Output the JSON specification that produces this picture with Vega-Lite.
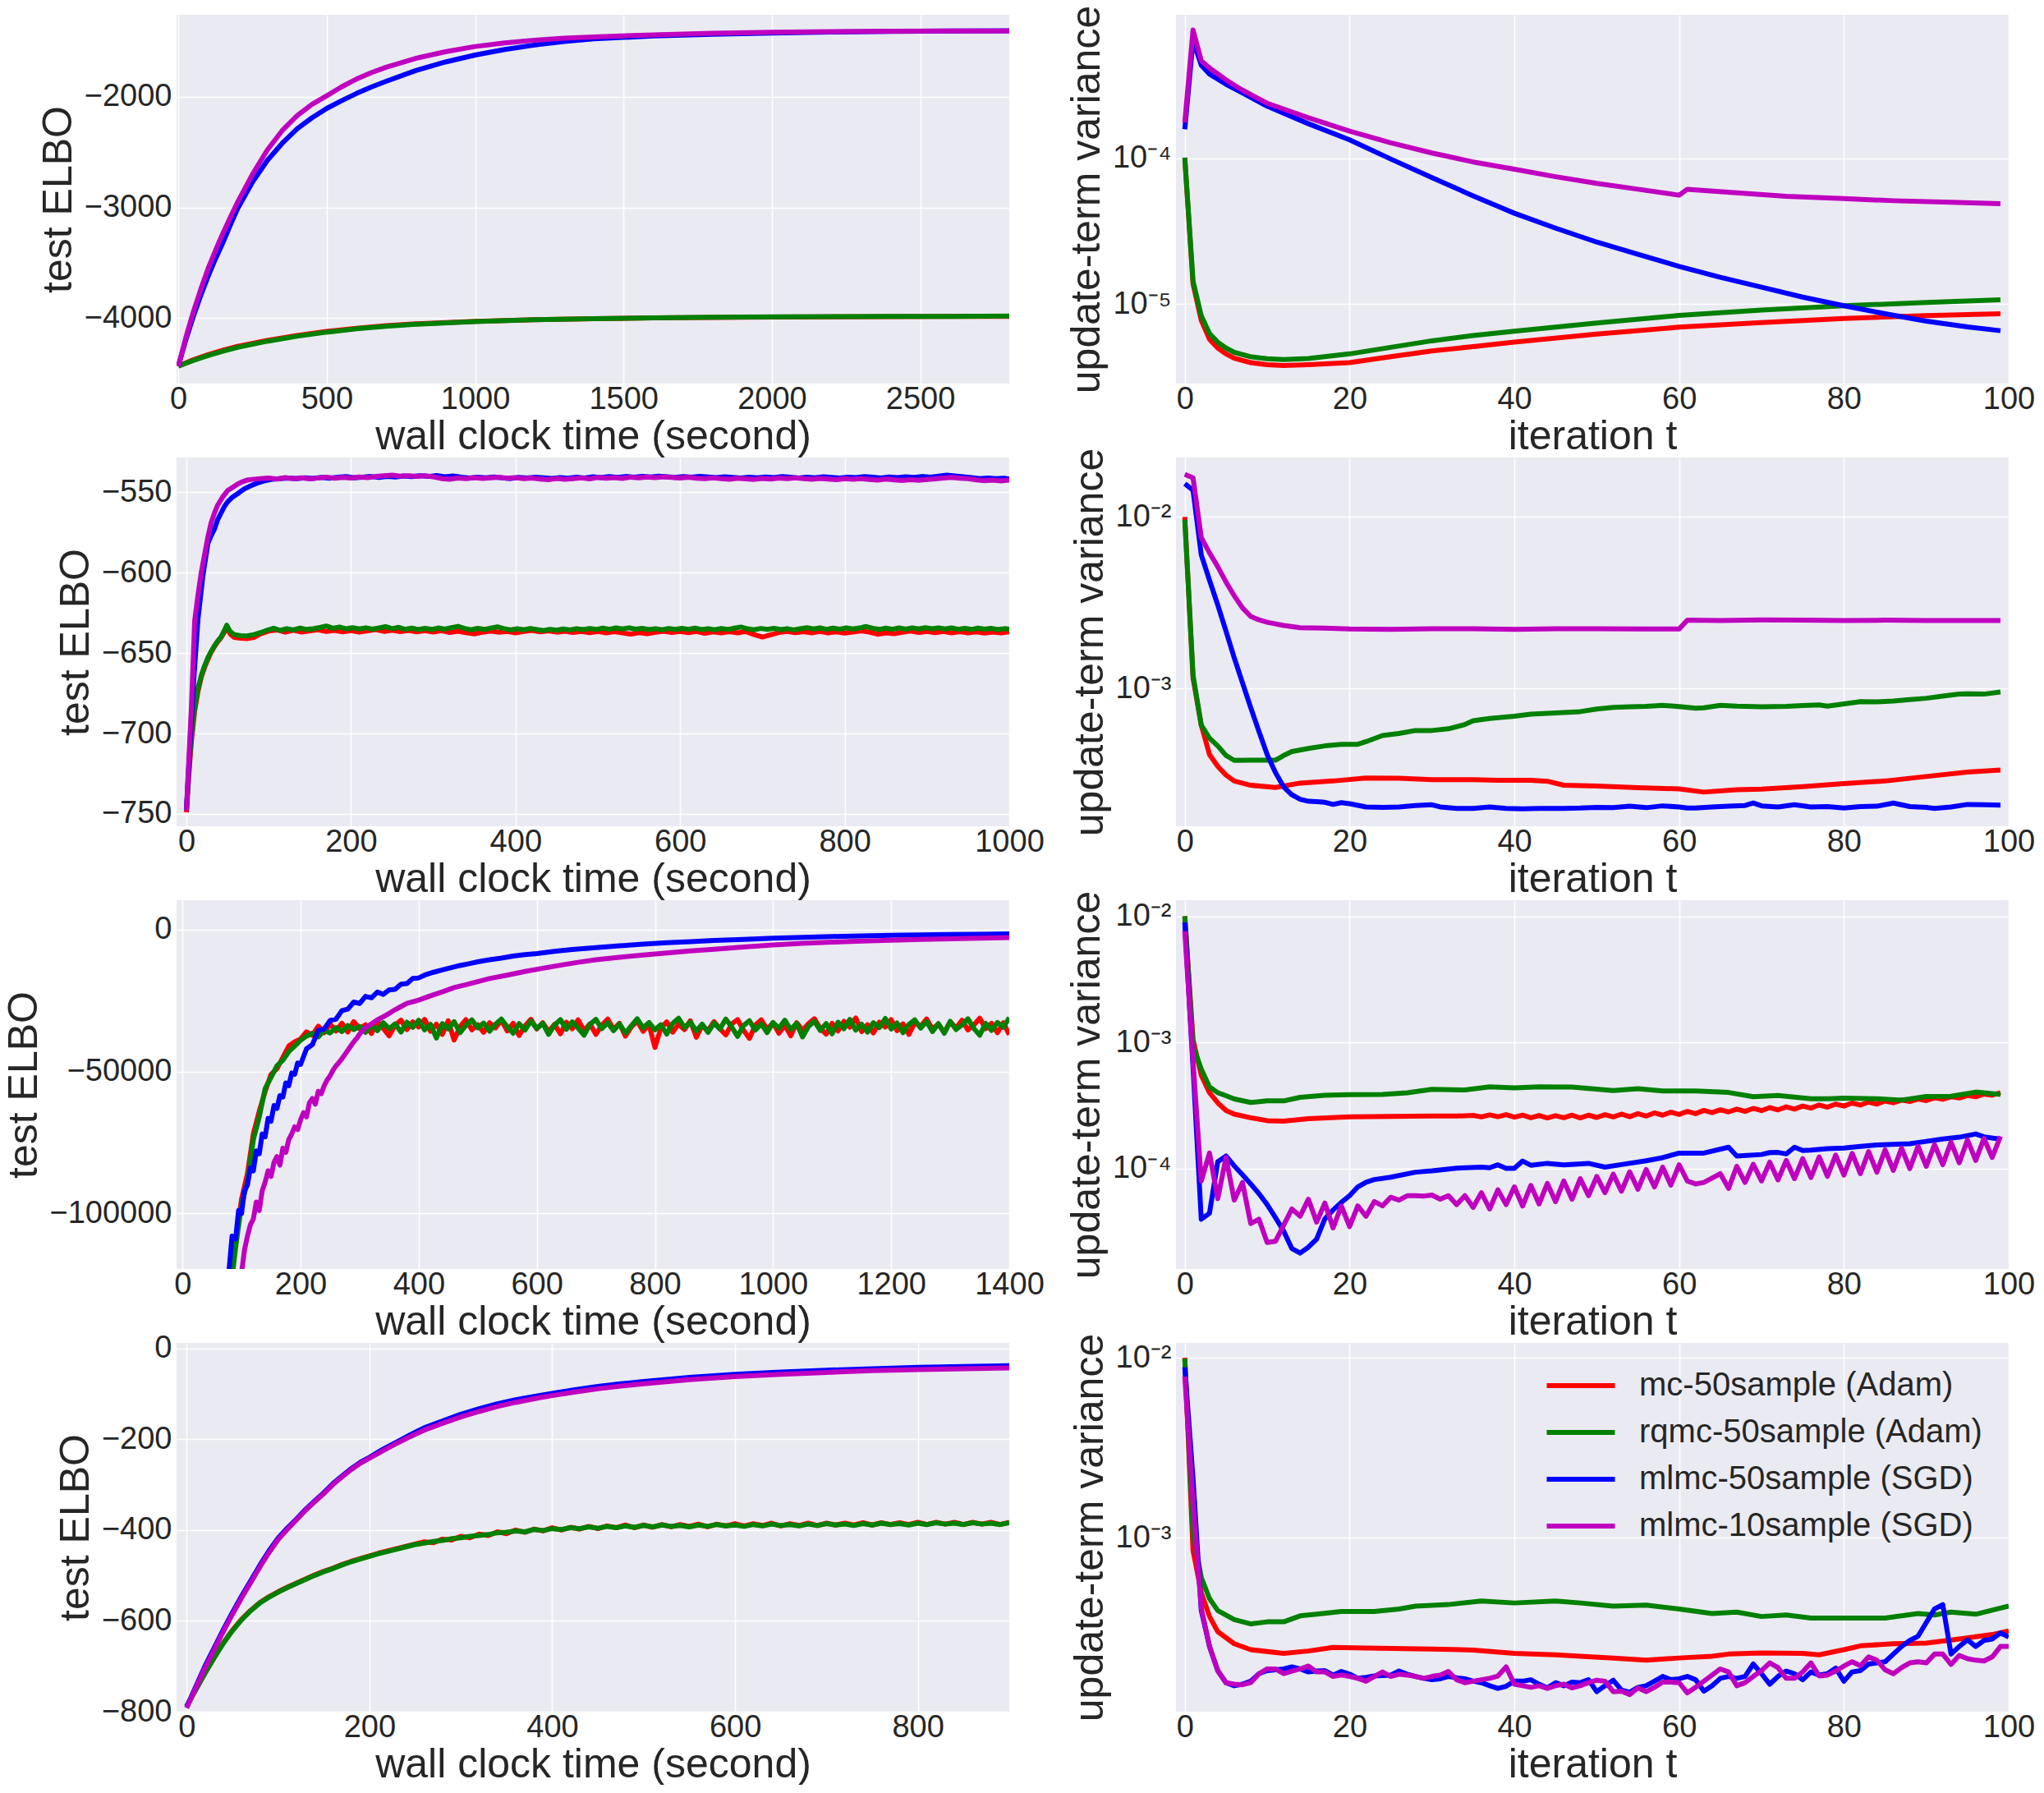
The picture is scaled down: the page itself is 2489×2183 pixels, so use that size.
{
"$schema":"https://vega.github.io/schema/vega-lite/v6.json",
"background":"white",
"padding":{"left":4,"top":6,"right":0,"bottom":0},
"config":{
"font":"Liberation Sans",
"view":{"fill":"#EAEAF2","stroke":null},
"axis":{"grid":true,"gridColor":"#ffffff","gridWidth":1.5,"domain":false,"ticks":false,"labelFontSize":38,"titleFontSize":50,"labelColor":"#262626","titleColor":"#262626","titleFontWeight":"normal","labelFlush":false,"labelOverlap":false,"labelFont":"Liberation Sans","titleFont":"Liberation Sans"},
"axisX":{"labelPadding":0,"titlePadding":1},
"axisY":{"labelPadding":6,"titlePadding":6},
"line":{"strokeWidth":6,"strokeJoin":"round","clip":true}
},
"bounds":"flush",
"columns":2,
"spacing":{"row":90,"column":203},
"resolve":{"scale":{"x":"independent","y":"independent","color":"independent"},"legend":{"color":"independent"}},
"datasets":{
"L1":[
{"s":"a","x":0,"y":-4435},{"s":"a","x":50,"y":-4378},{"s":"a","x":100,"y":-4332},{"s":"a","x":150,"y":-4292},{"s":"a","x":200,"y":-4257},{"s":"a","x":300,"y":-4202},{"s":"a","x":400,"y":-4158},{"s":"a","x":500,"y":-4122},{"s":"a","x":600,"y":-4093},{"s":"a","x":700,"y":-4070},{"s":"a","x":800,"y":-4053},{"s":"a","x":1000,"y":-4030},{"s":"a","x":1200,"y":-4015},{"s":"a","x":1400,"y":-4006},{"s":"a","x":1600,"y":-3999},{"s":"a","x":1800,"y":-3995},{"s":"a","x":2000,"y":-3991},{"s":"a","x":2200,"y":-3989},{"s":"a","x":2400,"y":-3987},{"s":"a","x":2600,"y":-3986},{"s":"a","x":2800,"y":-3985},
{"s":"b","x":0,"y":-4435},{"s":"b","x":50,"y":-4385},{"s":"b","x":100,"y":-4340},{"s":"b","x":150,"y":-4300},{"s":"b","x":200,"y":-4265},{"s":"b","x":300,"y":-4210},{"s":"b","x":400,"y":-4165},{"s":"b","x":500,"y":-4128},{"s":"b","x":600,"y":-4098},{"s":"b","x":700,"y":-4075},{"s":"b","x":800,"y":-4057},{"s":"b","x":1000,"y":-4032},{"s":"b","x":1200,"y":-4016},{"s":"b","x":1400,"y":-4006},{"s":"b","x":1600,"y":-3999},{"s":"b","x":1800,"y":-3994},{"s":"b","x":2000,"y":-3990},{"s":"b","x":2200,"y":-3988},{"s":"b","x":2400,"y":-3986},{"s":"b","x":2600,"y":-3985},{"s":"b","x":2800,"y":-3983},
{"s":"c","x":0,"y":-4435},{"s":"c","x":25,"y":-4200},{"s":"c","x":50,"y":-3990},{"s":"c","x":75,"y":-3800},{"s":"c","x":100,"y":-3625},{"s":"c","x":125,"y":-3465},{"s":"c","x":150,"y":-3320},{"s":"c","x":175,"y":-3160},{"s":"c","x":200,"y":-3010},{"s":"c","x":250,"y":-2770},{"s":"c","x":300,"y":-2575},{"s":"c","x":350,"y":-2420},{"s":"c","x":400,"y":-2290},{"s":"c","x":450,"y":-2190},{"s":"c","x":500,"y":-2105},{"s":"c","x":550,"y":-2035},{"s":"c","x":600,"y":-1970},{"s":"c","x":650,"y":-1912},{"s":"c","x":700,"y":-1860},{"s":"c","x":800,"y":-1762},{"s":"c","x":900,"y":-1685},{"s":"c","x":1000,"y":-1622},{"s":"c","x":1100,"y":-1572},{"s":"c","x":1200,"y":-1532},{"s":"c","x":1300,"y":-1500},{"s":"c","x":1400,"y":-1476},{"s":"c","x":1600,"y":-1450},{"s":"c","x":1800,"y":-1434},{"s":"c","x":2000,"y":-1423},{"s":"c","x":2200,"y":-1414},{"s":"c","x":2400,"y":-1409},{"s":"c","x":2600,"y":-1405},{"s":"c","x":2800,"y":-1403},
{"s":"d","x":0,"y":-4435},{"s":"d","x":25,"y":-4180},{"s":"d","x":50,"y":-3950},{"s":"d","x":75,"y":-3745},{"s":"d","x":100,"y":-3555},{"s":"d","x":125,"y":-3390},{"s":"d","x":150,"y":-3235},{"s":"d","x":175,"y":-3090},{"s":"d","x":200,"y":-2950},{"s":"d","x":250,"y":-2700},{"s":"d","x":300,"y":-2480},{"s":"d","x":350,"y":-2305},{"s":"d","x":400,"y":-2170},{"s":"d","x":450,"y":-2068},{"s":"d","x":500,"y":-1990},{"s":"d","x":550,"y":-1910},{"s":"d","x":600,"y":-1840},{"s":"d","x":650,"y":-1782},{"s":"d","x":700,"y":-1732},{"s":"d","x":800,"y":-1652},{"s":"d","x":900,"y":-1592},{"s":"d","x":1000,"y":-1545},{"s":"d","x":1100,"y":-1512},{"s":"d","x":1200,"y":-1488},{"s":"d","x":1300,"y":-1470},{"s":"d","x":1400,"y":-1458},{"s":"d","x":1600,"y":-1440},{"s":"d","x":1800,"y":-1425},{"s":"d","x":2000,"y":-1416},{"s":"d","x":2200,"y":-1410},{"s":"d","x":2400,"y":-1407},{"s":"d","x":2600,"y":-1405},{"s":"d","x":2800,"y":-1404}
],
"L2":[
{"s":"a","x":0,"y":-749},{"s":"a","x":3,"y":-725},{"s":"a","x":6,"y":-705},{"s":"a","x":10,"y":-686},{"s":"a","x":14,"y":-674},{"s":"a","x":18,"y":-665},{"s":"a","x":22,"y":-659},{"s":"a","x":26,"y":-654},{"s":"a","x":30,"y":-649.5},{"s":"a","x":34,"y":-646},{"s":"a","x":38,"y":-643},{"s":"a","x":42,"y":-640.5},{"s":"a","x":46,"y":-637},{"s":"a","x":49,"y":-634},{"s":"a","x":53,"y":-638},{"s":"a","x":58,"y":-640.2},{"s":"a","x":66,"y":-640.8},{"s":"a","x":74,"y":-641},{"s":"a","x":82,"y":-640.3},{"s":"a","x":90,"y":-638},{"s":"a","x":100,"y":-636.3},{"s":"a","x":110,"y":-635.6},{"s":"a","x":120,"y":-637.0},{"s":"a","x":130,"y":-635.8},{"s":"a","x":140,"y":-636.9},{"s":"a","x":150,"y":-636.2},{"s":"a","x":160,"y":-635.5},{"s":"a","x":170,"y":-636.6},{"s":"a","x":180,"y":-635.9},{"s":"a","x":190,"y":-636.8},{"s":"a","x":200,"y":-636.1},{"s":"a","x":210,"y":-637.0},{"s":"a","x":220,"y":-636.2},{"s":"a","x":230,"y":-635.4},{"s":"a","x":240,"y":-636.5},{"s":"a","x":250,"y":-635.8},{"s":"a","x":260,"y":-636.7},{"s":"a","x":270,"y":-635.9},{"s":"a","x":280,"y":-636.8},{"s":"a","x":290,"y":-636.0},{"s":"a","x":300,"y":-636.9},{"s":"a","x":310,"y":-636.1},{"s":"a","x":320,"y":-637.2},{"s":"a","x":330,"y":-636.4},{"s":"a","x":340,"y":-637.3},{"s":"a","x":350,"y":-638.1},{"s":"a","x":360,"y":-637.0},{"s":"a","x":370,"y":-636.3},{"s":"a","x":380,"y":-637.1},{"s":"a","x":390,"y":-636.5},{"s":"a","x":400,"y":-637.4},{"s":"a","x":410,"y":-636.6},{"s":"a","x":420,"y":-635.9},{"s":"a","x":430,"y":-636.8},{"s":"a","x":440,"y":-636.2},{"s":"a","x":450,"y":-637.0},{"s":"a","x":460,"y":-636.4},{"s":"a","x":470,"y":-637.2},{"s":"a","x":480,"y":-636.5},{"s":"a","x":490,"y":-637.3},{"s":"a","x":500,"y":-636.6},{"s":"a","x":510,"y":-637.4},{"s":"a","x":520,"y":-636.7},{"s":"a","x":530,"y":-637.5},{"s":"a","x":540,"y":-638.2},{"s":"a","x":550,"y":-637.3},{"s":"a","x":560,"y":-638.0},{"s":"a","x":570,"y":-637.1},{"s":"a","x":580,"y":-636.4},{"s":"a","x":590,"y":-637.2},{"s":"a","x":600,"y":-636.5},{"s":"a","x":610,"y":-637.3},{"s":"a","x":620,"y":-636.6},{"s":"a","x":630,"y":-637.7},{"s":"a","x":640,"y":-636.8},{"s":"a","x":650,"y":-637.5},{"s":"a","x":660,"y":-636.7},{"s":"a","x":670,"y":-637.4},{"s":"a","x":680,"y":-636.6},{"s":"a","x":690,"y":-638.5},{"s":"a","x":700,"y":-640.0},{"s":"a","x":710,"y":-638.6},{"s":"a","x":720,"y":-637.2},{"s":"a","x":730,"y":-636.5},{"s":"a","x":740,"y":-637.3},{"s":"a","x":750,"y":-636.7},{"s":"a","x":760,"y":-637.4},{"s":"a","x":770,"y":-636.6},{"s":"a","x":780,"y":-637.5},{"s":"a","x":790,"y":-636.8},{"s":"a","x":800,"y":-637.6},{"s":"a","x":810,"y":-636.9},{"s":"a","x":820,"y":-636.2},{"s":"a","x":830,"y":-637.0},{"s":"a","x":840,"y":-638.3},{"s":"a","x":850,"y":-637.4},{"s":"a","x":860,"y":-638.0},{"s":"a","x":870,"y":-637.1},{"s":"a","x":880,"y":-636.3},{"s":"a","x":890,"y":-637.2},{"s":"a","x":900,"y":-636.5},{"s":"a","x":910,"y":-637.3},{"s":"a","x":920,"y":-636.6},{"s":"a","x":930,"y":-637.4},{"s":"a","x":940,"y":-636.7},{"s":"a","x":950,"y":-637.5},{"s":"a","x":960,"y":-636.8},{"s":"a","x":970,"y":-637.6},{"s":"a","x":980,"y":-636.9},{"s":"a","x":990,"y":-637.5},{"s":"a","x":1000,"y":-636.8},
{"s":"b","x":0,"y":-748},{"s":"b","x":3,"y":-722},{"s":"b","x":6,"y":-702},{"s":"b","x":10,"y":-684},{"s":"b","x":14,"y":-672},{"s":"b","x":18,"y":-664},{"s":"b","x":22,"y":-658},{"s":"b","x":26,"y":-653},{"s":"b","x":30,"y":-649},{"s":"b","x":34,"y":-645.5},{"s":"b","x":38,"y":-642.5},{"s":"b","x":42,"y":-640},{"s":"b","x":46,"y":-636},{"s":"b","x":49,"y":-632.7},{"s":"b","x":53,"y":-636.5},{"s":"b","x":58,"y":-638.5},{"s":"b","x":66,"y":-639.2},{"s":"b","x":74,"y":-639.3},{"s":"b","x":82,"y":-638.5},{"s":"b","x":90,"y":-637.3},{"s":"b","x":98,"y":-635.8},{"s":"b","x":106,"y":-634.6},{"s":"b","x":114,"y":-635.9},{"s":"b","x":122,"y":-634.8},{"s":"b","x":130,"y":-635.6},{"s":"b","x":138,"y":-634.5},{"s":"b","x":146,"y":-635.3},{"s":"b","x":154,"y":-634.9},{"s":"b","x":162,"y":-634.1},{"s":"b","x":170,"y":-633.2},{"s":"b","x":178,"y":-634.6},{"s":"b","x":186,"y":-633.8},{"s":"b","x":194,"y":-634.9},{"s":"b","x":202,"y":-634.2},{"s":"b","x":210,"y":-635.0},{"s":"b","x":218,"y":-634.3},{"s":"b","x":226,"y":-635.1},{"s":"b","x":234,"y":-634.4},{"s":"b","x":242,"y":-633.6},{"s":"b","x":250,"y":-634.8},{"s":"b","x":258,"y":-634.0},{"s":"b","x":266,"y":-635.2},{"s":"b","x":274,"y":-634.5},{"s":"b","x":282,"y":-635.4},{"s":"b","x":290,"y":-634.6},{"s":"b","x":298,"y":-635.3},{"s":"b","x":306,"y":-634.4},{"s":"b","x":314,"y":-635.1},{"s":"b","x":322,"y":-634.2},{"s":"b","x":330,"y":-633.4},{"s":"b","x":338,"y":-634.7},{"s":"b","x":346,"y":-635.5},{"s":"b","x":354,"y":-634.6},{"s":"b","x":362,"y":-635.3},{"s":"b","x":370,"y":-634.5},{"s":"b","x":378,"y":-633.7},{"s":"b","x":386,"y":-634.8},{"s":"b","x":394,"y":-635.6},{"s":"b","x":402,"y":-634.9},{"s":"b","x":410,"y":-635.5},{"s":"b","x":418,"y":-634.7},{"s":"b","x":426,"y":-635.4},{"s":"b","x":434,"y":-636.0},{"s":"b","x":442,"y":-635.2},{"s":"b","x":450,"y":-635.8},{"s":"b","x":458,"y":-635.0},{"s":"b","x":466,"y":-635.6},{"s":"b","x":474,"y":-634.8},{"s":"b","x":482,"y":-635.4},{"s":"b","x":490,"y":-634.7},{"s":"b","x":498,"y":-635.3},{"s":"b","x":506,"y":-634.5},{"s":"b","x":514,"y":-635.2},{"s":"b","x":522,"y":-634.4},{"s":"b","x":530,"y":-635.0},{"s":"b","x":538,"y":-634.3},{"s":"b","x":546,"y":-635.1},{"s":"b","x":554,"y":-634.6},{"s":"b","x":562,"y":-635.4},{"s":"b","x":570,"y":-634.8},{"s":"b","x":578,"y":-635.5},{"s":"b","x":586,"y":-634.7},{"s":"b","x":594,"y":-635.3},{"s":"b","x":602,"y":-634.6},{"s":"b","x":610,"y":-635.2},{"s":"b","x":618,"y":-634.5},{"s":"b","x":626,"y":-635.4},{"s":"b","x":634,"y":-634.8},{"s":"b","x":642,"y":-635.5},{"s":"b","x":650,"y":-634.7},{"s":"b","x":658,"y":-635.3},{"s":"b","x":666,"y":-634.5},{"s":"b","x":674,"y":-633.8},{"s":"b","x":682,"y":-634.9},{"s":"b","x":690,"y":-635.5},{"s":"b","x":698,"y":-634.7},{"s":"b","x":706,"y":-635.3},{"s":"b","x":714,"y":-634.6},{"s":"b","x":722,"y":-635.4},{"s":"b","x":730,"y":-634.8},{"s":"b","x":738,"y":-635.6},{"s":"b","x":746,"y":-634.9},{"s":"b","x":754,"y":-634.2},{"s":"b","x":762,"y":-635.0},{"s":"b","x":770,"y":-634.4},{"s":"b","x":778,"y":-635.2},{"s":"b","x":786,"y":-634.5},{"s":"b","x":794,"y":-635.1},{"s":"b","x":802,"y":-634.3},{"s":"b","x":810,"y":-635.0},{"s":"b","x":818,"y":-634.4},{"s":"b","x":826,"y":-633.5},{"s":"b","x":834,"y":-634.6},{"s":"b","x":842,"y":-635.3},{"s":"b","x":850,"y":-634.5},{"s":"b","x":858,"y":-635.2},{"s":"b","x":866,"y":-634.4},{"s":"b","x":874,"y":-635.1},{"s":"b","x":882,"y":-634.3},{"s":"b","x":890,"y":-635.0},{"s":"b","x":898,"y":-634.2},{"s":"b","x":906,"y":-634.9},{"s":"b","x":914,"y":-634.3},{"s":"b","x":922,"y":-635.0},{"s":"b","x":930,"y":-634.4},{"s":"b","x":938,"y":-635.2},{"s":"b","x":946,"y":-634.6},{"s":"b","x":954,"y":-635.3},{"s":"b","x":962,"y":-634.5},{"s":"b","x":970,"y":-635.1},{"s":"b","x":978,"y":-634.6},{"s":"b","x":986,"y":-635.4},{"s":"b","x":994,"y":-634.8},{"s":"b","x":1000,"y":-635.2},
{"s":"c","x":0,"y":-747},{"s":"c","x":4,"y":-710},{"s":"c","x":9,"y":-666},{"s":"c","x":14,"y":-629},{"s":"c","x":20,"y":-602},{"s":"c","x":26,"y":-582},{"s":"c","x":30,"y":-577},{"s":"c","x":34,"y":-573},{"s":"c","x":38,"y":-567},{"s":"c","x":42,"y":-563},{"s":"c","x":46,"y":-559},{"s":"c","x":50,"y":-556},{"s":"c","x":56,"y":-553},{"s":"c","x":62,"y":-551},{"s":"c","x":70,"y":-548},{"s":"c","x":78,"y":-546},{"s":"c","x":86,"y":-544.3},{"s":"c","x":94,"y":-543},{"s":"c","x":104,"y":-542},{"s":"c","x":114,"y":-541.5},{"s":"c","x":124,"y":-541.2},{"s":"c","x":134,"y":-541.6},{"s":"c","x":144,"y":-541.0},{"s":"c","x":154,"y":-541.4},{"s":"c","x":164,"y":-540.8},{"s":"c","x":174,"y":-541.3},{"s":"c","x":184,"y":-540.7},{"s":"c","x":194,"y":-540.3},{"s":"c","x":204,"y":-541.0},{"s":"c","x":214,"y":-540.6},{"s":"c","x":224,"y":-540.2},{"s":"c","x":234,"y":-540.8},{"s":"c","x":244,"y":-540.1},{"s":"c","x":254,"y":-540.5},{"s":"c","x":264,"y":-539.9},{"s":"c","x":274,"y":-540.3},{"s":"c","x":284,"y":-539.7},{"s":"c","x":294,"y":-540.2},{"s":"c","x":304,"y":-539.6},{"s":"c","x":314,"y":-540.4},{"s":"c","x":324,"y":-539.9},{"s":"c","x":334,"y":-540.7},{"s":"c","x":344,"y":-541.2},{"s":"c","x":354,"y":-540.6},{"s":"c","x":364,"y":-541.0},{"s":"c","x":374,"y":-540.5},{"s":"c","x":384,"y":-541.1},{"s":"c","x":394,"y":-541.5},{"s":"c","x":404,"y":-540.8},{"s":"c","x":414,"y":-541.2},{"s":"c","x":424,"y":-540.6},{"s":"c","x":434,"y":-541.0},{"s":"c","x":444,"y":-541.4},{"s":"c","x":454,"y":-540.9},{"s":"c","x":464,"y":-541.3},{"s":"c","x":474,"y":-540.7},{"s":"c","x":484,"y":-541.1},{"s":"c","x":494,"y":-540.4},{"s":"c","x":504,"y":-540.9},{"s":"c","x":514,"y":-540.3},{"s":"c","x":524,"y":-540.8},{"s":"c","x":534,"y":-540.2},{"s":"c","x":544,"y":-540.6},{"s":"c","x":554,"y":-540.1},{"s":"c","x":564,"y":-540.5},{"s":"c","x":574,"y":-540.0},{"s":"c","x":584,"y":-540.4},{"s":"c","x":594,"y":-540.8},{"s":"c","x":604,"y":-540.3},{"s":"c","x":614,"y":-540.7},{"s":"c","x":624,"y":-540.1},{"s":"c","x":634,"y":-540.5},{"s":"c","x":644,"y":-540.9},{"s":"c","x":654,"y":-540.4},{"s":"c","x":664,"y":-540.8},{"s":"c","x":674,"y":-541.2},{"s":"c","x":684,"y":-540.6},{"s":"c","x":694,"y":-541.0},{"s":"c","x":704,"y":-540.5},{"s":"c","x":714,"y":-540.9},{"s":"c","x":724,"y":-540.3},{"s":"c","x":734,"y":-540.7},{"s":"c","x":744,"y":-541.1},{"s":"c","x":754,"y":-540.6},{"s":"c","x":764,"y":-541.0},{"s":"c","x":774,"y":-540.4},{"s":"c","x":784,"y":-540.8},{"s":"c","x":794,"y":-541.2},{"s":"c","x":804,"y":-540.6},{"s":"c","x":814,"y":-540.9},{"s":"c","x":824,"y":-540.3},{"s":"c","x":834,"y":-540.7},{"s":"c","x":844,"y":-541.1},{"s":"c","x":854,"y":-540.5},{"s":"c","x":864,"y":-540.9},{"s":"c","x":874,"y":-540.4},{"s":"c","x":884,"y":-540.8},{"s":"c","x":894,"y":-540.2},{"s":"c","x":904,"y":-540.6},{"s":"c","x":914,"y":-540.0},{"s":"c","x":924,"y":-539.4},{"s":"c","x":934,"y":-539.9},{"s":"c","x":944,"y":-540.4},{"s":"c","x":954,"y":-540.9},{"s":"c","x":964,"y":-541.5},{"s":"c","x":974,"y":-541.1},{"s":"c","x":984,"y":-541.6},{"s":"c","x":994,"y":-541.3},{"s":"c","x":1000,"y":-541.8},
{"s":"d","x":0,"y":-748},{"s":"d","x":3,"y":-715},{"s":"d","x":6,"y":-684},{"s":"d","x":10,"y":-630},{"s":"d","x":14,"y":-614},{"s":"d","x":18,"y":-600},{"s":"d","x":22,"y":-589},{"s":"d","x":26,"y":-578},{"s":"d","x":30,"y":-569},{"s":"d","x":34,"y":-563},{"s":"d","x":38,"y":-558},{"s":"d","x":44,"y":-553},{"s":"d","x":50,"y":-549},{"s":"d","x":56,"y":-547},{"s":"d","x":62,"y":-545},{"s":"d","x":68,"y":-543.5},{"s":"d","x":74,"y":-542.4},{"s":"d","x":80,"y":-542},{"s":"d","x":90,"y":-541.6},{"s":"d","x":100,"y":-541.2},{"s":"d","x":110,"y":-541.8},{"s":"d","x":120,"y":-540.9},{"s":"d","x":130,"y":-541.5},{"s":"d","x":140,"y":-541.0},{"s":"d","x":150,"y":-541.7},{"s":"d","x":160,"y":-541.1},{"s":"d","x":170,"y":-540.6},{"s":"d","x":180,"y":-541.3},{"s":"d","x":190,"y":-540.8},{"s":"d","x":200,"y":-541.2},{"s":"d","x":210,"y":-540.5},{"s":"d","x":220,"y":-540.9},{"s":"d","x":230,"y":-540.2},{"s":"d","x":240,"y":-539.8},{"s":"d","x":250,"y":-539.4},{"s":"d","x":260,"y":-540.0},{"s":"d","x":270,"y":-539.7},{"s":"d","x":280,"y":-540.1},{"s":"d","x":290,"y":-539.8},{"s":"d","x":300,"y":-540.4},{"s":"d","x":310,"y":-541.5},{"s":"d","x":320,"y":-541.9},{"s":"d","x":330,"y":-541.2},{"s":"d","x":340,"y":-541.6},{"s":"d","x":350,"y":-540.9},{"s":"d","x":360,"y":-541.4},{"s":"d","x":370,"y":-541.1},{"s":"d","x":380,"y":-540.7},{"s":"d","x":390,"y":-541.3},{"s":"d","x":400,"y":-540.9},{"s":"d","x":410,"y":-541.6},{"s":"d","x":420,"y":-541.2},{"s":"d","x":430,"y":-541.8},{"s":"d","x":440,"y":-542.2},{"s":"d","x":450,"y":-541.4},{"s":"d","x":460,"y":-542.0},{"s":"d","x":470,"y":-541.5},{"s":"d","x":480,"y":-541.1},{"s":"d","x":490,"y":-541.7},{"s":"d","x":500,"y":-540.8},{"s":"d","x":510,"y":-541.3},{"s":"d","x":520,"y":-540.9},{"s":"d","x":530,"y":-541.4},{"s":"d","x":540,"y":-540.6},{"s":"d","x":550,"y":-541.0},{"s":"d","x":560,"y":-540.5},{"s":"d","x":570,"y":-540.9},{"s":"d","x":580,"y":-540.4},{"s":"d","x":590,"y":-540.8},{"s":"d","x":600,"y":-541.2},{"s":"d","x":610,"y":-540.7},{"s":"d","x":620,"y":-541.3},{"s":"d","x":630,"y":-541.6},{"s":"d","x":640,"y":-541.1},{"s":"d","x":650,"y":-541.5},{"s":"d","x":660,"y":-541.9},{"s":"d","x":670,"y":-541.3},{"s":"d","x":680,"y":-541.7},{"s":"d","x":690,"y":-542.0},{"s":"d","x":700,"y":-541.4},{"s":"d","x":710,"y":-541.8},{"s":"d","x":720,"y":-541.2},{"s":"d","x":730,"y":-541.6},{"s":"d","x":740,"y":-541.0},{"s":"d","x":750,"y":-541.5},{"s":"d","x":760,"y":-541.9},{"s":"d","x":770,"y":-541.4},{"s":"d","x":780,"y":-541.8},{"s":"d","x":790,"y":-542.2},{"s":"d","x":800,"y":-541.6},{"s":"d","x":810,"y":-542.0},{"s":"d","x":820,"y":-541.5},{"s":"d","x":830,"y":-542.1},{"s":"d","x":840,"y":-542.4},{"s":"d","x":850,"y":-541.8},{"s":"d","x":860,"y":-542.3},{"s":"d","x":870,"y":-542.7},{"s":"d","x":880,"y":-542.2},{"s":"d","x":890,"y":-542.6},{"s":"d","x":900,"y":-542.1},{"s":"d","x":910,"y":-541.7},{"s":"d","x":920,"y":-541.2},{"s":"d","x":930,"y":-540.8},{"s":"d","x":940,"y":-541.3},{"s":"d","x":950,"y":-541.6},{"s":"d","x":960,"y":-542.3},{"s":"d","x":970,"y":-542.8},{"s":"d","x":980,"y":-542.4},{"s":"d","x":990,"y":-542.9},{"s":"d","x":1000,"y":-542.5}
],
"L3":[
{"s":"a","x":80,"y":-128000},{"s":"a","x":90,"y":-110000},{"s":"a","x":100,"y":-95000},{"s":"a","x":110,"y":-86000},{"s":"a","x":120,"y":-72000},{"s":"a","x":130,"y":-64000},{"s":"a","x":140,"y":-57000},{"s":"a","x":150,"y":-51000},{"s":"a","x":160,"y":-49000},{"s":"a","x":170,"y":-45000},{"s":"a","x":180,"y":-41000},{"s":"a","x":190,"y":-39500},{"s":"a","x":200,"y":-38500},{"s":"a","x":210,"y":-36000},{"s":"a","x":220,"y":-37200},{"s":"a","x":230,"y":-34000},{"s":"a","x":240,"y":-36300},{"s":"a","x":250,"y":-33200},{"s":"a","x":260,"y":-35700},{"s":"a","x":270,"y":-33000},{"s":"a","x":280,"y":-36100},{"s":"a","x":290,"y":-32400},{"s":"a","x":300,"y":-34900},{"s":"a","x":310,"y":-33500},{"s":"a","x":320,"y":-36600},{"s":"a","x":330,"y":-32300},{"s":"a","x":340,"y":-34800},{"s":"a","x":350,"y":-37400},{"s":"a","x":360,"y":-33600},{"s":"a","x":370,"y":-31900},{"s":"a","x":380,"y":-35200},{"s":"a","x":390,"y":-32500},{"s":"a","x":400,"y":-34300},{"s":"a","x":410,"y":-31600},{"s":"a","x":420,"y":-35800},{"s":"a","x":430,"y":-33300},{"s":"a","x":440,"y":-36900},{"s":"a","x":450,"y":-32100},{"s":"a","x":460,"y":-38900},{"s":"a","x":470,"y":-34200},{"s":"a","x":480,"y":-31700},{"s":"a","x":490,"y":-35300},{"s":"a","x":500,"y":-33500},{"s":"a","x":510,"y":-36200},{"s":"a","x":520,"y":-32800},{"s":"a","x":530,"y":-34600},{"s":"a","x":540,"y":-31900},{"s":"a","x":550,"y":-35700},{"s":"a","x":560,"y":-33000},{"s":"a","x":570,"y":-37300},{"s":"a","x":580,"y":-33900},{"s":"a","x":590,"y":-31600},{"s":"a","x":600,"y":-35000},{"s":"a","x":610,"y":-32800},{"s":"a","x":620,"y":-35900},{"s":"a","x":630,"y":-33400},{"s":"a","x":640,"y":-36700},{"s":"a","x":650,"y":-32600},{"s":"a","x":660,"y":-34900},{"s":"a","x":670,"y":-31800},{"s":"a","x":680,"y":-35600},{"s":"a","x":690,"y":-33200},{"s":"a","x":700,"y":-36900},{"s":"a","x":710,"y":-33700},{"s":"a","x":720,"y":-31500},{"s":"a","x":730,"y":-35100},{"s":"a","x":740,"y":-33000},{"s":"a","x":750,"y":-37500},{"s":"a","x":760,"y":-34300},{"s":"a","x":770,"y":-32200},{"s":"a","x":780,"y":-35800},{"s":"a","x":790,"y":-33400},{"s":"a","x":800,"y":-41500},{"s":"a","x":810,"y":-34700},{"s":"a","x":820,"y":-32500},{"s":"a","x":830,"y":-36100},{"s":"a","x":840,"y":-33300},{"s":"a","x":850,"y":-35200},{"s":"a","x":860,"y":-32100},{"s":"a","x":870,"y":-37900},{"s":"a","x":880,"y":-33800},{"s":"a","x":890,"y":-35600},{"s":"a","x":900,"y":-32400},{"s":"a","x":910,"y":-34900},{"s":"a","x":920,"y":-37100},{"s":"a","x":930,"y":-33200},{"s":"a","x":940,"y":-31700},{"s":"a","x":950,"y":-35400},{"s":"a","x":960,"y":-38300},{"s":"a","x":970,"y":-33600},{"s":"a","x":980,"y":-31800},{"s":"a","x":990,"y":-35100},{"s":"a","x":1000,"y":-32900},{"s":"a","x":1010,"y":-36500},{"s":"a","x":1020,"y":-33700},{"s":"a","x":1030,"y":-37400},{"s":"a","x":1040,"y":-32800},{"s":"a","x":1050,"y":-35500},{"s":"a","x":1060,"y":-33100},{"s":"a","x":1070,"y":-31400},{"s":"a","x":1080,"y":-34800},{"s":"a","x":1090,"y":-36800},{"s":"a","x":1100,"y":-33000},{"s":"a","x":1110,"y":-35700},{"s":"a","x":1120,"y":-32300},{"s":"a","x":1130,"y":-34400},{"s":"a","x":1140,"y":-31100},{"s":"a","x":1150,"y":-35900},{"s":"a","x":1160,"y":-33500},{"s":"a","x":1170,"y":-36400},{"s":"a","x":1180,"y":-32600},{"s":"a","x":1190,"y":-34300},{"s":"a","x":1200,"y":-31700},{"s":"a","x":1210,"y":-35600},{"s":"a","x":1220,"y":-33200},{"s":"a","x":1230,"y":-36900},{"s":"a","x":1240,"y":-32800},{"s":"a","x":1250,"y":-34100},{"s":"a","x":1260,"y":-31500},{"s":"a","x":1270,"y":-35000},{"s":"a","x":1280,"y":-33300},{"s":"a","x":1290,"y":-36200},{"s":"a","x":1300,"y":-32500},{"s":"a","x":1310,"y":-34700},{"s":"a","x":1320,"y":-31900},{"s":"a","x":1330,"y":-35300},{"s":"a","x":1340,"y":-33600},{"s":"a","x":1350,"y":-31200},{"s":"a","x":1360,"y":-34900},{"s":"a","x":1370,"y":-33000},{"s":"a","x":1380,"y":-36300},{"s":"a","x":1390,"y":-32800},{"s":"a","x":1400,"y":-37000},
{"s":"b","x":80,"y":-130000},{"s":"b","x":90,"y":-112000},{"s":"b","x":100,"y":-97000},{"s":"b","x":110,"y":-89000},{"s":"b","x":120,"y":-74000},{"s":"b","x":130,"y":-66000},{"s":"b","x":140,"y":-56000},{"s":"b","x":150,"y":-52000},{"s":"b","x":160,"y":-48000},{"s":"b","x":170,"y":-46000},{"s":"b","x":180,"y":-43000},{"s":"b","x":190,"y":-41000},{"s":"b","x":200,"y":-39000},{"s":"b","x":210,"y":-37500},{"s":"b","x":220,"y":-36500},{"s":"b","x":230,"y":-37800},{"s":"b","x":240,"y":-35500},{"s":"b","x":250,"y":-36400},{"s":"b","x":260,"y":-34500},{"s":"b","x":270,"y":-35900},{"s":"b","x":280,"y":-33800},{"s":"b","x":290,"y":-35200},{"s":"b","x":300,"y":-34100},{"s":"b","x":310,"y":-36200},{"s":"b","x":320,"y":-33500},{"s":"b","x":330,"y":-35600},{"s":"b","x":340,"y":-32800},{"s":"b","x":350,"y":-34900},{"s":"b","x":360,"y":-33200},{"s":"b","x":370,"y":-36100},{"s":"b","x":380,"y":-32600},{"s":"b","x":390,"y":-34400},{"s":"b","x":400,"y":-31900},{"s":"b","x":410,"y":-35300},{"s":"b","x":420,"y":-33400},{"s":"b","x":430,"y":-38200},{"s":"b","x":440,"y":-33100},{"s":"b","x":450,"y":-35000},{"s":"b","x":460,"y":-32400},{"s":"b","x":470,"y":-36300},{"s":"b","x":480,"y":-33700},{"s":"b","x":490,"y":-31800},{"s":"b","x":500,"y":-34600},{"s":"b","x":510,"y":-32900},{"s":"b","x":520,"y":-35800},{"s":"b","x":530,"y":-33300},{"s":"b","x":540,"y":-31500},{"s":"b","x":550,"y":-34200},{"s":"b","x":560,"y":-36500},{"s":"b","x":570,"y":-33100},{"s":"b","x":580,"y":-35400},{"s":"b","x":590,"y":-32200},{"s":"b","x":600,"y":-34800},{"s":"b","x":610,"y":-33000},{"s":"b","x":620,"y":-36900},{"s":"b","x":630,"y":-33600},{"s":"b","x":640,"y":-31700},{"s":"b","x":650,"y":-35100},{"s":"b","x":660,"y":-32500},{"s":"b","x":670,"y":-34700},{"s":"b","x":680,"y":-37200},{"s":"b","x":690,"y":-33400},{"s":"b","x":700,"y":-31600},{"s":"b","x":710,"y":-34900},{"s":"b","x":720,"y":-32800},{"s":"b","x":730,"y":-35600},{"s":"b","x":740,"y":-33200},{"s":"b","x":750,"y":-36400},{"s":"b","x":760,"y":-33900},{"s":"b","x":770,"y":-31400},{"s":"b","x":780,"y":-34600},{"s":"b","x":790,"y":-32700},{"s":"b","x":800,"y":-35300},{"s":"b","x":810,"y":-33500},{"s":"b","x":820,"y":-36800},{"s":"b","x":830,"y":-33000},{"s":"b","x":840,"y":-31200},{"s":"b","x":850,"y":-34500},{"s":"b","x":860,"y":-32600},{"s":"b","x":870,"y":-35700},{"s":"b","x":880,"y":-33300},{"s":"b","x":890,"y":-36200},{"s":"b","x":900,"y":-32900},{"s":"b","x":910,"y":-35000},{"s":"b","x":920,"y":-31500},{"s":"b","x":930,"y":-34300},{"s":"b","x":940,"y":-37600},{"s":"b","x":950,"y":-33800},{"s":"b","x":960,"y":-32100},{"s":"b","x":970,"y":-35400},{"s":"b","x":980,"y":-33200},{"s":"b","x":990,"y":-36300},{"s":"b","x":1000,"y":-32700},{"s":"b","x":1010,"y":-34800},{"s":"b","x":1020,"y":-31900},{"s":"b","x":1030,"y":-35200},{"s":"b","x":1040,"y":-33000},{"s":"b","x":1050,"y":-37800},{"s":"b","x":1060,"y":-34100},{"s":"b","x":1070,"y":-32300},{"s":"b","x":1080,"y":-35500},{"s":"b","x":1090,"y":-33100},{"s":"b","x":1100,"y":-36700},{"s":"b","x":1110,"y":-32600},{"s":"b","x":1120,"y":-34900},{"s":"b","x":1130,"y":-31600},{"s":"b","x":1140,"y":-35400},{"s":"b","x":1150,"y":-33300},{"s":"b","x":1160,"y":-36100},{"s":"b","x":1170,"y":-32800},{"s":"b","x":1180,"y":-34500},{"s":"b","x":1190,"y":-31300},{"s":"b","x":1200,"y":-35000},{"s":"b","x":1210,"y":-32900},{"s":"b","x":1220,"y":-36300},{"s":"b","x":1230,"y":-33400},{"s":"b","x":1240,"y":-31800},{"s":"b","x":1250,"y":-34700},{"s":"b","x":1260,"y":-32400},{"s":"b","x":1270,"y":-35900},{"s":"b","x":1280,"y":-33100},{"s":"b","x":1290,"y":-36500},{"s":"b","x":1300,"y":-32300},{"s":"b","x":1310,"y":-35200},{"s":"b","x":1320,"y":-33600},{"s":"b","x":1330,"y":-31400},{"s":"b","x":1340,"y":-34800},{"s":"b","x":1350,"y":-37200},{"s":"b","x":1360,"y":-33000},{"s":"b","x":1370,"y":-35500},{"s":"b","x":1380,"y":-32700},{"s":"b","x":1390,"y":-34400},{"s":"b","x":1400,"y":-31000},
{"s":"c","x":78,"y":-122000},{"s":"c","x":84,"y":-108000},{"s":"c","x":90,"y":-109000},{"s":"c","x":95,"y":-99000},{"s":"c","x":100,"y":-100000},{"s":"c","x":105,"y":-92000},{"s":"c","x":110,"y":-90000},{"s":"c","x":115,"y":-84000},{"s":"c","x":120,"y":-85000},{"s":"c","x":125,"y":-78000},{"s":"c","x":130,"y":-79000},{"s":"c","x":135,"y":-72000},{"s":"c","x":140,"y":-73000},{"s":"c","x":145,"y":-66500},{"s":"c","x":150,"y":-67500},{"s":"c","x":155,"y":-62000},{"s":"c","x":160,"y":-63000},{"s":"c","x":165,"y":-58500},{"s":"c","x":170,"y":-59000},{"s":"c","x":175,"y":-54000},{"s":"c","x":180,"y":-55000},{"s":"c","x":185,"y":-50500},{"s":"c","x":190,"y":-51000},{"s":"c","x":195,"y":-47000},{"s":"c","x":200,"y":-47500},{"s":"c","x":210,"y":-42000},{"s":"c","x":220,"y":-40500},{"s":"c","x":230,"y":-35500},{"s":"c","x":240,"y":-35000},{"s":"c","x":250,"y":-32000},{"s":"c","x":260,"y":-31500},{"s":"c","x":270,"y":-28500},{"s":"c","x":280,"y":-28000},{"s":"c","x":290,"y":-25500},{"s":"c","x":300,"y":-26000},{"s":"c","x":310,"y":-23500},{"s":"c","x":320,"y":-24000},{"s":"c","x":330,"y":-22000},{"s":"c","x":340,"y":-22800},{"s":"c","x":350,"y":-21200},{"s":"c","x":360,"y":-21000},{"s":"c","x":370,"y":-19200},{"s":"c","x":380,"y":-19000},{"s":"c","x":390,"y":-17200},{"s":"c","x":400,"y":-17000},{"s":"c","x":410,"y":-16000},{"s":"c","x":425,"y":-15000},{"s":"c","x":440,"y":-14200},{"s":"c","x":455,"y":-13400},{"s":"c","x":470,"y":-12600},{"s":"c","x":485,"y":-12000},{"s":"c","x":500,"y":-11300},{"s":"c","x":520,"y":-10600},{"s":"c","x":540,"y":-10000},{"s":"c","x":560,"y":-9300},{"s":"c","x":580,"y":-8800},{"s":"c","x":600,"y":-8400},{"s":"c","x":630,"y":-7600},{"s":"c","x":660,"y":-7000},{"s":"c","x":700,"y":-6300},{"s":"c","x":740,"y":-5700},{"s":"c","x":780,"y":-5100},{"s":"c","x":820,"y":-4600},{"s":"c","x":860,"y":-4200},{"s":"c","x":900,"y":-3800},{"s":"c","x":950,"y":-3400},{"s":"c","x":1000,"y":-3000},{"s":"c","x":1050,"y":-2700},{"s":"c","x":1100,"y":-2400},{"s":"c","x":1150,"y":-2200},{"s":"c","x":1200,"y":-2000},{"s":"c","x":1250,"y":-1850},{"s":"c","x":1300,"y":-1700},{"s":"c","x":1350,"y":-1600},{"s":"c","x":1400,"y":-1500},
{"s":"d","x":100,"y":-121000},{"s":"d","x":105,"y":-113000},{"s":"d","x":110,"y":-108000},{"s":"d","x":115,"y":-104000},{"s":"d","x":120,"y":-102000},{"s":"d","x":125,"y":-96000},{"s":"d","x":130,"y":-99000},{"s":"d","x":135,"y":-92000},{"s":"d","x":140,"y":-89000},{"s":"d","x":145,"y":-85000},{"s":"d","x":150,"y":-87000},{"s":"d","x":155,"y":-82000},{"s":"d","x":160,"y":-80000},{"s":"d","x":165,"y":-83000},{"s":"d","x":170,"y":-77000},{"s":"d","x":175,"y":-78500},{"s":"d","x":180,"y":-74000},{"s":"d","x":185,"y":-72000},{"s":"d","x":190,"y":-69500},{"s":"d","x":195,"y":-70500},{"s":"d","x":200,"y":-67000},{"s":"d","x":205,"y":-64500},{"s":"d","x":210,"y":-66000},{"s":"d","x":215,"y":-61000},{"s":"d","x":220,"y":-59500},{"s":"d","x":225,"y":-61500},{"s":"d","x":230,"y":-57000},{"s":"d","x":235,"y":-57800},{"s":"d","x":240,"y":-55000},{"s":"d","x":245,"y":-53000},{"s":"d","x":250,"y":-51500},{"s":"d","x":255,"y":-49500},{"s":"d","x":260,"y":-48000},{"s":"d","x":265,"y":-46800},{"s":"d","x":270,"y":-45500},{"s":"d","x":275,"y":-44000},{"s":"d","x":280,"y":-42500},{"s":"d","x":285,"y":-41000},{"s":"d","x":290,"y":-39500},{"s":"d","x":295,"y":-38300},{"s":"d","x":300,"y":-36800},{"s":"d","x":310,"y":-34500},{"s":"d","x":320,"y":-33200},{"s":"d","x":330,"y":-31800},{"s":"d","x":340,"y":-30700},{"s":"d","x":350,"y":-29500},{"s":"d","x":360,"y":-28200},{"s":"d","x":370,"y":-27100},{"s":"d","x":380,"y":-26000},{"s":"d","x":400,"y":-24800},{"s":"d","x":420,"y":-23300},{"s":"d","x":440,"y":-21900},{"s":"d","x":460,"y":-20400},{"s":"d","x":480,"y":-19400},{"s":"d","x":500,"y":-18300},{"s":"d","x":520,"y":-17200},{"s":"d","x":550,"y":-16000},{"s":"d","x":580,"y":-14700},{"s":"d","x":610,"y":-13600},{"s":"d","x":640,"y":-12500},{"s":"d","x":670,"y":-11500},{"s":"d","x":700,"y":-10600},{"s":"d","x":740,"y":-9700},{"s":"d","x":780,"y":-8900},{"s":"d","x":820,"y":-8200},{"s":"d","x":860,"y":-7500},{"s":"d","x":900,"y":-6900},{"s":"d","x":950,"y":-6100},{"s":"d","x":1000,"y":-5400},{"s":"d","x":1050,"y":-4800},{"s":"d","x":1100,"y":-4400},{"s":"d","x":1150,"y":-4000},{"s":"d","x":1200,"y":-3700},{"s":"d","x":1250,"y":-3400},{"s":"d","x":1300,"y":-3200},{"s":"d","x":1350,"y":-3000},{"s":"d","x":1400,"y":-2800}
],
"L4":[
{"s":"a","x":0,"y":-788},{"s":"a","x":10,"y":-751},{"s":"a","x":20,"y":-715},{"s":"a","x":30,"y":-681},{"s":"a","x":40,"y":-649},{"s":"a","x":50,"y":-621},{"s":"a","x":60,"y":-597},{"s":"a","x":70,"y":-577},{"s":"a","x":80,"y":-560},{"s":"a","x":90,"y":-547},{"s":"a","x":100,"y":-536},{"s":"a","x":110,"y":-526},{"s":"a","x":120,"y":-517},{"s":"a","x":130,"y":-508},{"s":"a","x":140,"y":-499},{"s":"a","x":150,"y":-491},{"s":"a","x":160,"y":-484},{"s":"a","x":170,"y":-476},{"s":"a","x":180,"y":-469},{"s":"a","x":190,"y":-463},{"s":"a","x":200,"y":-457},{"s":"a","x":210,"y":-451},{"s":"a","x":220,"y":-446},{"s":"a","x":230,"y":-441},{"s":"a","x":240,"y":-436},{"s":"a","x":250,"y":-431},{"s":"a","x":260,"y":-426},{"s":"a","x":270,"y":-428},{"s":"a","x":280,"y":-420},{"s":"a","x":290,"y":-422},{"s":"a","x":300,"y":-414},{"s":"a","x":310,"y":-417},{"s":"a","x":320,"y":-409},{"s":"a","x":330,"y":-412},{"s":"a","x":340,"y":-404},{"s":"a","x":350,"y":-408},{"s":"a","x":360,"y":-400},{"s":"a","x":370,"y":-405},{"s":"a","x":380,"y":-398},{"s":"a","x":390,"y":-402},{"s":"a","x":400,"y":-395},{"s":"a","x":410,"y":-400},{"s":"a","x":420,"y":-394},{"s":"a","x":430,"y":-398},{"s":"a","x":440,"y":-392},{"s":"a","x":450,"y":-397},{"s":"a","x":460,"y":-391},{"s":"a","x":470,"y":-395},{"s":"a","x":480,"y":-389},{"s":"a","x":490,"y":-395},{"s":"a","x":500,"y":-389},{"s":"a","x":510,"y":-394},{"s":"a","x":520,"y":-388},{"s":"a","x":530,"y":-393},{"s":"a","x":540,"y":-388},{"s":"a","x":550,"y":-392},{"s":"a","x":560,"y":-387},{"s":"a","x":570,"y":-393},{"s":"a","x":580,"y":-387},{"s":"a","x":590,"y":-391},{"s":"a","x":600,"y":-386},{"s":"a","x":610,"y":-391},{"s":"a","x":620,"y":-386},{"s":"a","x":630,"y":-390},{"s":"a","x":640,"y":-385},{"s":"a","x":650,"y":-391},{"s":"a","x":660,"y":-386},{"s":"a","x":670,"y":-390},{"s":"a","x":680,"y":-385},{"s":"a","x":690,"y":-390},{"s":"a","x":700,"y":-385},{"s":"a","x":710,"y":-389},{"s":"a","x":720,"y":-385},{"s":"a","x":730,"y":-389},{"s":"a","x":740,"y":-384},{"s":"a","x":750,"y":-389},{"s":"a","x":760,"y":-384},{"s":"a","x":770,"y":-388},{"s":"a","x":780,"y":-384},{"s":"a","x":790,"y":-388},{"s":"a","x":800,"y":-383},{"s":"a","x":810,"y":-388},{"s":"a","x":820,"y":-383},{"s":"a","x":830,"y":-387},{"s":"a","x":840,"y":-383},{"s":"a","x":850,"y":-388},{"s":"a","x":860,"y":-383},{"s":"a","x":870,"y":-387},{"s":"a","x":880,"y":-383},{"s":"a","x":890,"y":-388},{"s":"a","x":900,"y":-383},
{"s":"b","x":0,"y":-788},{"s":"b","x":10,"y":-752},{"s":"b","x":20,"y":-716},{"s":"b","x":30,"y":-682},{"s":"b","x":40,"y":-650},{"s":"b","x":50,"y":-622},{"s":"b","x":60,"y":-598},{"s":"b","x":70,"y":-578},{"s":"b","x":80,"y":-561},{"s":"b","x":90,"y":-548},{"s":"b","x":100,"y":-537},{"s":"b","x":110,"y":-527},{"s":"b","x":120,"y":-518},{"s":"b","x":130,"y":-509},{"s":"b","x":140,"y":-500},{"s":"b","x":150,"y":-492},{"s":"b","x":160,"y":-485},{"s":"b","x":170,"y":-477},{"s":"b","x":180,"y":-470},{"s":"b","x":190,"y":-464},{"s":"b","x":200,"y":-458},{"s":"b","x":210,"y":-452},{"s":"b","x":220,"y":-447},{"s":"b","x":230,"y":-442},{"s":"b","x":240,"y":-437},{"s":"b","x":250,"y":-432},{"s":"b","x":260,"y":-429},{"s":"b","x":270,"y":-425},{"s":"b","x":280,"y":-423},{"s":"b","x":290,"y":-419},{"s":"b","x":300,"y":-417},{"s":"b","x":310,"y":-414},{"s":"b","x":320,"y":-412},{"s":"b","x":330,"y":-410},{"s":"b","x":340,"y":-406},{"s":"b","x":350,"y":-405},{"s":"b","x":360,"y":-402},{"s":"b","x":370,"y":-404},{"s":"b","x":380,"y":-399},{"s":"b","x":390,"y":-401},{"s":"b","x":400,"y":-397},{"s":"b","x":410,"y":-399},{"s":"b","x":420,"y":-395},{"s":"b","x":430,"y":-397},{"s":"b","x":440,"y":-393},{"s":"b","x":450,"y":-396},{"s":"b","x":460,"y":-392},{"s":"b","x":470,"y":-395},{"s":"b","x":480,"y":-391},{"s":"b","x":490,"y":-394},{"s":"b","x":500,"y":-390},{"s":"b","x":510,"y":-393},{"s":"b","x":520,"y":-389},{"s":"b","x":530,"y":-392},{"s":"b","x":540,"y":-390},{"s":"b","x":550,"y":-393},{"s":"b","x":560,"y":-389},{"s":"b","x":570,"y":-392},{"s":"b","x":580,"y":-388},{"s":"b","x":590,"y":-391},{"s":"b","x":600,"y":-389},{"s":"b","x":610,"y":-392},{"s":"b","x":620,"y":-388},{"s":"b","x":630,"y":-391},{"s":"b","x":640,"y":-387},{"s":"b","x":650,"y":-390},{"s":"b","x":660,"y":-388},{"s":"b","x":670,"y":-391},{"s":"b","x":680,"y":-387},{"s":"b","x":690,"y":-390},{"s":"b","x":700,"y":-386},{"s":"b","x":710,"y":-389},{"s":"b","x":720,"y":-387},{"s":"b","x":730,"y":-390},{"s":"b","x":740,"y":-386},{"s":"b","x":750,"y":-389},{"s":"b","x":760,"y":-385},{"s":"b","x":770,"y":-388},{"s":"b","x":780,"y":-386},{"s":"b","x":790,"y":-389},{"s":"b","x":800,"y":-385},{"s":"b","x":810,"y":-388},{"s":"b","x":820,"y":-384},{"s":"b","x":830,"y":-387},{"s":"b","x":840,"y":-385},{"s":"b","x":850,"y":-388},{"s":"b","x":860,"y":-384},{"s":"b","x":870,"y":-387},{"s":"b","x":880,"y":-385},{"s":"b","x":890,"y":-388},{"s":"b","x":900,"y":-384},
{"s":"c","x":0,"y":-790},{"s":"c","x":10,"y":-745},{"s":"c","x":20,"y":-700},{"s":"c","x":30,"y":-660},{"s":"c","x":40,"y":-620},{"s":"c","x":50,"y":-582},{"s":"c","x":60,"y":-546},{"s":"c","x":70,"y":-512},{"s":"c","x":80,"y":-478},{"s":"c","x":90,"y":-446},{"s":"c","x":100,"y":-418},{"s":"c","x":110,"y":-396},{"s":"c","x":120,"y":-376},{"s":"c","x":130,"y":-355},{"s":"c","x":140,"y":-336},{"s":"c","x":150,"y":-318},{"s":"c","x":160,"y":-298},{"s":"c","x":170,"y":-281},{"s":"c","x":180,"y":-265},{"s":"c","x":190,"y":-251},{"s":"c","x":200,"y":-240},{"s":"c","x":215,"y":-222},{"s":"c","x":230,"y":-206},{"s":"c","x":245,"y":-190},{"s":"c","x":260,"y":-175},{"s":"c","x":280,"y":-160},{"s":"c","x":300,"y":-145},{"s":"c","x":320,"y":-133},{"s":"c","x":340,"y":-122},{"s":"c","x":360,"y":-113},{"s":"c","x":380,"y":-106},{"s":"c","x":400,"y":-99},{"s":"c","x":425,"y":-91},{"s":"c","x":450,"y":-84},{"s":"c","x":475,"y":-78},{"s":"c","x":500,"y":-73},{"s":"c","x":550,"y":-64},{"s":"c","x":600,"y":-57},{"s":"c","x":650,"y":-52},{"s":"c","x":700,"y":-48},{"s":"c","x":750,"y":-45},{"s":"c","x":800,"y":-42},{"s":"c","x":850,"y":-40},{"s":"c","x":900,"y":-38},
{"s":"d","x":0,"y":-792},{"s":"d","x":10,"y":-748},{"s":"d","x":20,"y":-704},{"s":"d","x":30,"y":-664},{"s":"d","x":40,"y":-624},{"s":"d","x":50,"y":-586},{"s":"d","x":60,"y":-550},{"s":"d","x":70,"y":-516},{"s":"d","x":80,"y":-482},{"s":"d","x":90,"y":-450},{"s":"d","x":100,"y":-421},{"s":"d","x":110,"y":-399},{"s":"d","x":120,"y":-378},{"s":"d","x":130,"y":-357},{"s":"d","x":140,"y":-338},{"s":"d","x":150,"y":-320},{"s":"d","x":160,"y":-300},{"s":"d","x":170,"y":-283},{"s":"d","x":180,"y":-267},{"s":"d","x":190,"y":-253},{"s":"d","x":200,"y":-242},{"s":"d","x":215,"y":-225},{"s":"d","x":230,"y":-209},{"s":"d","x":245,"y":-194},{"s":"d","x":260,"y":-180},{"s":"d","x":280,"y":-165},{"s":"d","x":300,"y":-151},{"s":"d","x":320,"y":-139},{"s":"d","x":340,"y":-128},{"s":"d","x":360,"y":-119},{"s":"d","x":380,"y":-111},{"s":"d","x":400,"y":-104},{"s":"d","x":425,"y":-96},{"s":"d","x":450,"y":-89},{"s":"d","x":475,"y":-83},{"s":"d","x":500,"y":-78},{"s":"d","x":550,"y":-69},{"s":"d","x":600,"y":-62},{"s":"d","x":650,"y":-57},{"s":"d","x":700,"y":-53},{"s":"d","x":750,"y":-49},{"s":"d","x":800,"y":-47},{"s":"d","x":850,"y":-45},{"s":"d","x":900,"y":-43}
],
"R1":[
{"s":"a","x":0,"y":1.0e-4},{"s":"a","x":1,"y":1.38e-5},{"s":"a","x":2,"y":7.76e-6},{"s":"a","x":3,"y":5.75e-6},{"s":"a","x":4,"y":5.01e-6},{"s":"a","x":5,"y":4.57e-6},{"s":"a","x":6,"y":4.27e-6},{"s":"a","x":8,"y":3.98e-6},{"s":"a","x":10,"y":3.85e-6},{"s":"a","x":12,"y":3.80e-6},{"s":"a","x":15,"y":3.85e-6},{"s":"a","x":20,"y":3.98e-6},{"s":"a","x":25,"y":4.37e-6},{"s":"a","x":30,"y":4.79e-6},{"s":"a","x":35,"y":5.13e-6},{"s":"a","x":40,"y":5.50e-6},{"s":"a","x":50,"y":6.24e-6},{"s":"a","x":60,"y":6.97e-6},{"s":"a","x":70,"y":7.50e-6},{"s":"a","x":80,"y":8.00e-6},{"s":"a","x":90,"y":8.36e-6},{"s":"a","x":99,"y":8.61e-6},
{"s":"b","x":0,"y":1.014e-4},{"s":"b","x":1,"y":1.445e-5},{"s":"b","x":2,"y":8.32e-6},{"s":"b","x":3,"y":6.31e-6},{"s":"b","x":4,"y":5.50e-6},{"s":"b","x":5,"y":5.01e-6},{"s":"b","x":6,"y":4.68e-6},{"s":"b","x":8,"y":4.37e-6},{"s":"b","x":10,"y":4.23e-6},{"s":"b","x":12,"y":4.18e-6},{"s":"b","x":15,"y":4.25e-6},{"s":"b","x":20,"y":4.57e-6},{"s":"b","x":25,"y":5.07e-6},{"s":"b","x":30,"y":5.62e-6},{"s":"b","x":35,"y":6.10e-6},{"s":"b","x":40,"y":6.53e-6},{"s":"b","x":50,"y":7.45e-6},{"s":"b","x":60,"y":8.38e-6},{"s":"b","x":70,"y":9.12e-6},{"s":"b","x":80,"y":9.77e-6},{"s":"b","x":90,"y":1.028e-5},{"s":"b","x":99,"y":1.072e-5},
{"s":"c","x":0,"y":1.585e-4},{"s":"c","x":1,"y":6.46e-4},{"s":"c","x":2,"y":4.36e-4},{"s":"c","x":3,"y":3.79e-4},{"s":"c","x":5,"y":3.23e-4},{"s":"c","x":7,"y":2.81e-4},{"s":"c","x":10,"y":2.28e-4},{"s":"c","x":15,"y":1.73e-4},{"s":"c","x":20,"y":1.34e-4},{"s":"c","x":25,"y":9.91e-5},{"s":"c","x":30,"y":7.39e-5},{"s":"c","x":35,"y":5.54e-5},{"s":"c","x":40,"y":4.21e-5},{"s":"c","x":45,"y":3.33e-5},{"s":"c","x":50,"y":2.67e-5},{"s":"c","x":55,"y":2.20e-5},{"s":"c","x":60,"y":1.82e-5},{"s":"c","x":65,"y":1.53e-5},{"s":"c","x":70,"y":1.31e-5},{"s":"c","x":75,"y":1.12e-5},{"s":"c","x":80,"y":9.77e-6},{"s":"c","x":85,"y":8.61e-6},{"s":"c","x":90,"y":7.67e-6},{"s":"c","x":95,"y":7.00e-6},{"s":"c","x":99,"y":6.59e-6},
{"s":"d","x":0,"y":1.766e-4},{"s":"d","x":1,"y":7.60e-4},{"s":"d","x":2,"y":4.68e-4},{"s":"d","x":3,"y":4.17e-4},{"s":"d","x":5,"y":3.46e-4},{"s":"d","x":7,"y":2.94e-4},{"s":"d","x":10,"y":2.39e-4},{"s":"d","x":15,"y":1.90e-4},{"s":"d","x":20,"y":1.54e-4},{"s":"d","x":25,"y":1.28e-4},{"s":"d","x":30,"y":1.09e-4},{"s":"d","x":35,"y":9.46e-5},{"s":"d","x":40,"y":8.43e-5},{"s":"d","x":45,"y":7.50e-5},{"s":"d","x":50,"y":6.74e-5},{"s":"d","x":55,"y":6.15e-5},{"s":"d","x":60,"y":5.60e-5},{"s":"d","x":61,"y":6.15e-5},{"s":"d","x":67,"y":5.82e-5},{"s":"d","x":73,"y":5.50e-5},{"s":"d","x":80,"y":5.30e-5},{"s":"d","x":86,"y":5.13e-5},{"s":"d","x":93,"y":5.01e-5},{"s":"d","x":99,"y":4.90e-5}
],
"R2":[
{"s":"a","x":0,"y":1.00e-2},{"s":"a","x":1,"y":1.15e-3},{"s":"a","x":2,"y":6.11e-4},{"s":"a","x":3,"y":4.12e-4},{"s":"a","x":4,"y":3.52e-4},{"s":"a","x":5,"y":3.13e-4},{"s":"a","x":6,"y":2.89e-4},{"s":"a","x":8,"y":2.73e-4},{"s":"a","x":11,"y":2.65e-4},{"s":"a","x":14,"y":2.81e-4},{"s":"a","x":18,"y":2.89e-4},{"s":"a","x":22,"y":3.01e-4},{"s":"a","x":26,"y":3.00e-4},{"s":"a","x":30,"y":2.94e-4},{"s":"a","x":35,"y":2.94e-4},{"s":"a","x":38,"y":2.92e-4},{"s":"a","x":42,"y":2.92e-4},{"s":"a","x":44,"y":2.88e-4},{"s":"a","x":46,"y":2.73e-4},{"s":"a","x":50,"y":2.70e-4},{"s":"a","x":55,"y":2.64e-4},{"s":"a","x":60,"y":2.60e-4},{"s":"a","x":63,"y":2.49e-4},{"s":"a","x":67,"y":2.57e-4},{"s":"a","x":70,"y":2.59e-4},{"s":"a","x":75,"y":2.68e-4},{"s":"a","x":80,"y":2.79e-4},{"s":"a","x":85,"y":2.89e-4},{"s":"a","x":90,"y":3.07e-4},{"s":"a","x":95,"y":3.26e-4},{"s":"a","x":99,"y":3.35e-4},
{"s":"b","x":0,"y":9.62e-3},{"s":"b","x":1,"y":1.20e-3},{"s":"b","x":2,"y":6.11e-4},{"s":"b","x":3,"y":5.13e-4},{"s":"b","x":4,"y":4.63e-4},{"s":"b","x":5,"y":4.07e-4},{"s":"b","x":6,"y":3.81e-4},{"s":"b","x":8,"y":3.82e-4},{"s":"b","x":11,"y":3.82e-4},{"s":"b","x":12,"y":4.07e-4},{"s":"b","x":13,"y":4.29e-4},{"s":"b","x":15,"y":4.47e-4},{"s":"b","x":17,"y":4.63e-4},{"s":"b","x":19,"y":4.72e-4},{"s":"b","x":21,"y":4.73e-4},{"s":"b","x":22,"y":4.90e-4},{"s":"b","x":24,"y":5.32e-4},{"s":"b","x":26,"y":5.47e-4},{"s":"b","x":28,"y":5.69e-4},{"s":"b","x":30,"y":5.69e-4},{"s":"b","x":32,"y":5.82e-4},{"s":"b","x":34,"y":6.17e-4},{"s":"b","x":35,"y":6.49e-4},{"s":"b","x":37,"y":6.68e-4},{"s":"b","x":40,"y":6.89e-4},{"s":"b","x":42,"y":7.08e-4},{"s":"b","x":45,"y":7.21e-4},{"s":"b","x":48,"y":7.33e-4},{"s":"b","x":50,"y":7.59e-4},{"s":"b","x":52,"y":7.76e-4},{"s":"b","x":54,"y":7.83e-4},{"s":"b","x":56,"y":7.87e-4},{"s":"b","x":58,"y":7.98e-4},{"s":"b","x":60,"y":7.85e-4},{"s":"b","x":62,"y":7.67e-4},{"s":"b","x":63,"y":7.72e-4},{"s":"b","x":65,"y":7.98e-4},{"s":"b","x":67,"y":7.89e-4},{"s":"b","x":70,"y":7.83e-4},{"s":"b","x":73,"y":7.87e-4},{"s":"b","x":75,"y":7.96e-4},{"s":"b","x":77,"y":8.02e-4},{"s":"b","x":78,"y":7.89e-4},{"s":"b","x":80,"y":8.13e-4},{"s":"b","x":82,"y":8.38e-4},{"s":"b","x":84,"y":8.36e-4},{"s":"b","x":86,"y":8.45e-4},{"s":"b","x":88,"y":8.61e-4},{"s":"b","x":90,"y":8.77e-4},{"s":"b","x":92,"y":9.02e-4},{"s":"b","x":94,"y":9.27e-4},{"s":"b","x":95,"y":9.31e-4},{"s":"b","x":97,"y":9.27e-4},{"s":"b","x":99,"y":9.53e-4},
{"s":"c","x":0,"y":1.56e-2},{"s":"c","x":1,"y":1.43e-2},{"s":"c","x":2,"y":6.00e-3},{"s":"c","x":3,"y":4.27e-3},{"s":"c","x":4,"y":3.07e-3},{"s":"c","x":5,"y":2.16e-3},{"s":"c","x":6,"y":1.51e-3},{"s":"c","x":7,"y":1.08e-3},{"s":"c","x":8,"y":7.74e-4},{"s":"c","x":9,"y":5.62e-4},{"s":"c","x":10,"y":4.12e-4},{"s":"c","x":11,"y":3.24e-4},{"s":"c","x":12,"y":2.67e-4},{"s":"c","x":13,"y":2.40e-4},{"s":"c","x":14,"y":2.26e-4},{"s":"c","x":15,"y":2.20e-4},{"s":"c","x":16,"y":2.19e-4},{"s":"c","x":17,"y":2.17e-4},{"s":"c","x":18,"y":2.11e-4},{"s":"c","x":19,"y":2.16e-4},{"s":"c","x":20,"y":2.13e-4},{"s":"c","x":22,"y":2.04e-4},{"s":"c","x":24,"y":2.03e-4},{"s":"c","x":26,"y":2.04e-4},{"s":"c","x":28,"y":2.08e-4},{"s":"c","x":30,"y":2.10e-4},{"s":"c","x":31,"y":2.04e-4},{"s":"c","x":33,"y":2.00e-4},{"s":"c","x":35,"y":2.00e-4},{"s":"c","x":37,"y":2.04e-4},{"s":"c","x":39,"y":2.00e-4},{"s":"c","x":41,"y":1.99e-4},{"s":"c","x":43,"y":2.00e-4},{"s":"c","x":46,"y":2.00e-4},{"s":"c","x":48,"y":2.01e-4},{"s":"c","x":50,"y":2.03e-4},{"s":"c","x":52,"y":2.02e-4},{"s":"c","x":54,"y":2.06e-4},{"s":"c","x":56,"y":2.02e-4},{"s":"c","x":58,"y":2.07e-4},{"s":"c","x":60,"y":2.04e-4},{"s":"c","x":61,"y":2.01e-4},{"s":"c","x":62,"y":2.01e-4},{"s":"c","x":64,"y":2.04e-4},{"s":"c","x":66,"y":2.06e-4},{"s":"c","x":68,"y":2.08e-4},{"s":"c","x":69,"y":2.15e-4},{"s":"c","x":70,"y":2.07e-4},{"s":"c","x":72,"y":2.04e-4},{"s":"c","x":74,"y":2.10e-4},{"s":"c","x":76,"y":2.04e-4},{"s":"c","x":78,"y":2.05e-4},{"s":"c","x":80,"y":2.01e-4},{"s":"c","x":82,"y":2.05e-4},{"s":"c","x":84,"y":2.06e-4},{"s":"c","x":86,"y":2.15e-4},{"s":"c","x":88,"y":2.05e-4},{"s":"c","x":90,"y":2.03e-4},{"s":"c","x":91,"y":2.00e-4},{"s":"c","x":93,"y":2.04e-4},{"s":"c","x":95,"y":2.11e-4},{"s":"c","x":97,"y":2.10e-4},{"s":"c","x":99,"y":2.09e-4},
{"s":"d","x":0,"y":1.77e-2},{"s":"d","x":1,"y":1.69e-2},{"s":"d","x":2,"y":7.59e-3},{"s":"d","x":3,"y":6.17e-3},{"s":"d","x":4,"y":5.13e-3},{"s":"d","x":5,"y":4.17e-3},{"s":"d","x":6,"y":3.47e-3},{"s":"d","x":7,"y":2.95e-3},{"s":"d","x":8,"y":2.63e-3},{"s":"d","x":9,"y":2.51e-3},{"s":"d","x":10,"y":2.43e-3},{"s":"d","x":12,"y":2.33e-3},{"s":"d","x":14,"y":2.26e-3},{"s":"d","x":17,"y":2.25e-3},{"s":"d","x":20,"y":2.22e-3},{"s":"d","x":25,"y":2.21e-3},{"s":"d","x":30,"y":2.23e-3},{"s":"d","x":35,"y":2.23e-3},{"s":"d","x":40,"y":2.21e-3},{"s":"d","x":45,"y":2.23e-3},{"s":"d","x":50,"y":2.23e-3},{"s":"d","x":55,"y":2.22e-3},{"s":"d","x":60,"y":2.22e-3},{"s":"d","x":61,"y":2.50e-3},{"s":"d","x":65,"y":2.49e-3},{"s":"d","x":70,"y":2.51e-3},{"s":"d","x":75,"y":2.50e-3},{"s":"d","x":80,"y":2.49e-3},{"s":"d","x":85,"y":2.50e-3},{"s":"d","x":90,"y":2.49e-3},{"s":"d","x":95,"y":2.49e-3},{"s":"d","x":99,"y":2.49e-3}
],
"R3":[
{"s":"a","x":0,"y":1.00e-2},{"s":"a","x":1,"y":1.05e-3},{"s":"a","x":2,"y":5.48e-4},{"s":"a","x":3,"y":3.98e-4},{"s":"a","x":4,"y":3.31e-4},{"s":"a","x":5,"y":2.88e-4},{"s":"a","x":6,"y":2.69e-4},{"s":"a","x":8,"y":2.52e-4},{"s":"a","x":10,"y":2.39e-4},{"s":"a","x":12,"y":2.37e-4},{"s":"a","x":15,"y":2.48e-4},{"s":"a","x":20,"y":2.56e-4},{"s":"a","x":25,"y":2.58e-4},{"s":"a","x":30,"y":2.60e-4},{"s":"a","x":33,"y":2.60e-4},{"s":"a","x":35,"y":2.630e-4},{"s":"a","x":36,"y":2.559e-4},{"s":"a","x":37,"y":2.655e-4},{"s":"a","x":38,"y":2.570e-4},{"s":"a","x":39,"y":2.667e-4},{"s":"a","x":40,"y":2.547e-4},{"s":"a","x":41,"y":2.642e-4},{"s":"a","x":42,"y":2.523e-4},{"s":"a","x":43,"y":2.630e-4},{"s":"a","x":44,"y":2.512e-4},{"s":"a","x":45,"y":2.618e-4},{"s":"a","x":46,"y":2.523e-4},{"s":"a","x":47,"y":2.642e-4},{"s":"a","x":48,"y":2.512e-4},{"s":"a","x":49,"y":2.642e-4},{"s":"a","x":50,"y":2.535e-4},{"s":"a","x":51,"y":2.667e-4},{"s":"a","x":52,"y":2.559e-4},{"s":"a","x":53,"y":2.692e-4},{"s":"a","x":54,"y":2.570e-4},{"s":"a","x":55,"y":2.716e-4},{"s":"a","x":56,"y":2.600e-4},{"s":"a","x":57,"y":2.754e-4},{"s":"a","x":58,"y":2.642e-4},{"s":"a","x":59,"y":2.786e-4},{"s":"a","x":60,"y":2.679e-4},{"s":"a","x":61,"y":2.831e-4},{"s":"a","x":62,"y":2.716e-4},{"s":"a","x":63,"y":2.884e-4},{"s":"a","x":64,"y":2.767e-4},{"s":"a","x":65,"y":2.917e-4},{"s":"a","x":66,"y":2.805e-4},{"s":"a","x":67,"y":2.951e-4},{"s":"a","x":68,"y":2.831e-4},{"s":"a","x":69,"y":2.992e-4},{"s":"a","x":70,"y":2.871e-4},{"s":"a","x":71,"y":3.034e-4},{"s":"a","x":72,"y":2.911e-4},{"s":"a","x":73,"y":3.076e-4},{"s":"a","x":74,"y":2.951e-4},{"s":"a","x":75,"y":3.119e-4},{"s":"a","x":76,"y":3.006e-4},{"s":"a","x":77,"y":3.184e-4},{"s":"a","x":78,"y":3.055e-4},{"s":"a","x":79,"y":3.236e-4},{"s":"a","x":80,"y":3.119e-4},{"s":"a","x":81,"y":3.296e-4},{"s":"a","x":82,"y":3.177e-4},{"s":"a","x":83,"y":3.357e-4},{"s":"a","x":84,"y":3.236e-4},{"s":"a","x":85,"y":3.420e-4},{"s":"a","x":86,"y":3.311e-4},{"s":"a","x":87,"y":3.483e-4},{"s":"a","x":88,"y":3.388e-4},{"s":"a","x":89,"y":3.548e-4},{"s":"a","x":90,"y":3.451e-4},{"s":"a","x":91,"y":3.631e-4},{"s":"a","x":92,"y":3.532e-4},{"s":"a","x":93,"y":3.698e-4},{"s":"a","x":94,"y":3.614e-4},{"s":"a","x":95,"y":3.784e-4},{"s":"a","x":96,"y":3.698e-4},{"s":"a","x":97,"y":3.890e-4},{"s":"a","x":98,"y":3.802e-4},{"s":"a","x":99,"y":3.990e-4},
{"s":"b","x":0,"y":1.00e-2},{"s":"b","x":1,"y":9.38e-4},{"s":"b","x":2,"y":6.11e-4},{"s":"b","x":3,"y":4.43e-4},{"s":"b","x":4,"y":3.98e-4},{"s":"b","x":5,"y":3.77e-4},{"s":"b","x":6,"y":3.55e-4},{"s":"b","x":8,"y":3.33e-4},{"s":"b","x":10,"y":3.43e-4},{"s":"b","x":12,"y":3.43e-4},{"s":"b","x":14,"y":3.66e-4},{"s":"b","x":17,"y":3.80e-4},{"s":"b","x":20,"y":3.85e-4},{"s":"b","x":24,"y":3.86e-4},{"s":"b","x":27,"y":3.98e-4},{"s":"b","x":30,"y":4.24e-4},{"s":"b","x":34,"y":4.19e-4},{"s":"b","x":37,"y":4.43e-4},{"s":"b","x":40,"y":4.35e-4},{"s":"b","x":43,"y":4.43e-4},{"s":"b","x":47,"y":4.41e-4},{"s":"b","x":52,"y":4.14e-4},{"s":"b","x":55,"y":4.28e-4},{"s":"b","x":58,"y":4.11e-4},{"s":"b","x":62,"y":4.11e-4},{"s":"b","x":66,"y":4.00e-4},{"s":"b","x":69,"y":3.70e-4},{"s":"b","x":72,"y":3.78e-4},{"s":"b","x":76,"y":3.57e-4},{"s":"b","x":78,"y":3.57e-4},{"s":"b","x":80,"y":3.61e-4},{"s":"b","x":84,"y":3.57e-4},{"s":"b","x":87,"y":3.48e-4},{"s":"b","x":90,"y":3.72e-4},{"s":"b","x":93,"y":3.73e-4},{"s":"b","x":96,"y":4.03e-4},{"s":"b","x":99,"y":3.86e-4},
{"s":"c","x":0,"y":8.93e-3},{"s":"c","x":1,"y":6.31e-4},{"s":"c","x":2,"y":3.95e-5},{"s":"c","x":3,"y":4.41e-5},{"s":"c","x":4,"y":1.127e-4},{"s":"c","x":5,"y":1.253e-4},{"s":"c","x":6,"y":1.047e-4},{"s":"c","x":7,"y":8.91e-5},{"s":"c","x":8,"y":7.52e-5},{"s":"c","x":9,"y":6.31e-5},{"s":"c","x":10,"y":5.16e-5},{"s":"c","x":11,"y":4.07e-5},{"s":"c","x":12,"y":3.18e-5},{"s":"c","x":13,"y":2.31e-5},{"s":"c","x":14,"y":2.13e-5},{"s":"c","x":15,"y":2.37e-5},{"s":"c","x":16,"y":2.75e-5},{"s":"c","x":17,"y":3.98e-5},{"s":"c","x":18,"y":4.68e-5},{"s":"c","x":19,"y":5.37e-5},{"s":"c","x":20,"y":6.07e-5},{"s":"c","x":21,"y":7.13e-5},{"s":"c","x":22,"y":7.76e-5},{"s":"c","x":23,"y":8.15e-5},{"s":"c","x":25,"y":8.51e-5},{"s":"c","x":28,"y":9.33e-5},{"s":"c","x":30,"y":9.55e-5},{"s":"c","x":33,"y":1.005e-4},{"s":"c","x":36,"y":1.023e-4},{"s":"c","x":37,"y":1.012e-4},{"s":"c","x":38,"y":1.067e-4},{"s":"c","x":39,"y":1.0e-4},{"s":"c","x":40,"y":1.0e-4},{"s":"c","x":41,"y":1.143e-4},{"s":"c","x":42,"y":1.059e-4},{"s":"c","x":44,"y":1.096e-4},{"s":"c","x":46,"y":1.067e-4},{"s":"c","x":49,"y":1.096e-4},{"s":"c","x":51,"y":1.023e-4},{"s":"c","x":53,"y":1.072e-4},{"s":"c","x":56,"y":1.148e-4},{"s":"c","x":58,"y":1.216e-4},{"s":"c","x":60,"y":1.321e-4},{"s":"c","x":63,"y":1.321e-4},{"s":"c","x":66,"y":1.472e-4},{"s":"c","x":67,"y":1.253e-4},{"s":"c","x":70,"y":1.288e-4},{"s":"c","x":71,"y":1.334e-4},{"s":"c","x":72,"y":1.338e-4},{"s":"c","x":73,"y":1.303e-4},{"s":"c","x":74,"y":1.472e-4},{"s":"c","x":75,"y":1.387e-4},{"s":"c","x":76,"y":1.396e-4},{"s":"c","x":78,"y":1.435e-4},{"s":"c","x":80,"y":1.452e-4},{"s":"c","x":82,"y":1.493e-4},{"s":"c","x":84,"y":1.531e-4},{"s":"c","x":86,"y":1.549e-4},{"s":"c","x":88,"y":1.567e-4},{"s":"c","x":90,"y":1.637e-4},{"s":"c","x":92,"y":1.710e-4},{"s":"c","x":94,"y":1.766e-4},{"s":"c","x":96,"y":1.875e-4},{"s":"c","x":97,"y":1.778e-4},{"s":"c","x":99,"y":1.702e-4},
{"s":"d","x":0,"y":7.60e-3},{"s":"d","x":1,"y":7.08e-4},{"s":"d","x":2,"y":7.94e-5},{"s":"d","x":3,"y":1.321e-4},{"s":"d","x":4,"y":5.75e-5},{"s":"d","x":5,"y":1.219e-4},{"s":"d","x":6,"y":5.60e-5},{"s":"d","x":7,"y":7.73e-5},{"s":"d","x":8,"y":3.65e-5},{"s":"d","x":9,"y":3.95e-5},{"s":"d","x":10,"y":2.58e-5},{"s":"d","x":11,"y":2.64e-5},{"s":"d","x":12,"y":3.55e-5},{"s":"d","x":13,"y":4.76e-5},{"s":"d","x":14,"y":4.17e-5},{"s":"d","x":15,"y":5.69e-5},{"s":"d","x":16,"y":3.75e-5},{"s":"d","x":17,"y":5.31e-5},{"s":"d","x":18,"y":3.37e-5},{"s":"d","x":19,"y":5.04e-5},{"s":"d","x":20,"y":3.45e-5},{"s":"d","x":21,"y":5.04e-5},{"s":"d","x":22,"y":4.17e-5},{"s":"d","x":23,"y":5.46e-5},{"s":"d","x":24,"y":5.04e-5},{"s":"d","x":25,"y":5.90e-5},{"s":"d","x":26,"y":5.60e-5},{"s":"d","x":27,"y":6.07e-5},{"s":"d","x":28,"y":6.07e-5},{"s":"d","x":29,"y":6.03e-5},{"s":"d","x":30,"y":6.14e-5},{"s":"d","x":31,"y":5.69e-5},{"s":"d","x":32,"y":6.07e-5},{"s":"d","x":33,"y":5.16e-5},{"s":"d","x":34,"y":6.07e-5},{"s":"d","x":35,"y":4.90e-5},{"s":"d","x":36,"y":6.41e-5},{"s":"d","x":37,"y":4.76e-5},{"s":"d","x":38,"y":6.76e-5},{"s":"d","x":39,"y":5.16e-5},{"s":"d","x":40,"y":7.13e-5},{"s":"d","x":41,"y":5.03e-5},{"s":"d","x":42,"y":7.32e-5},{"s":"d","x":43,"y":5.22e-5},{"s":"d","x":44,"y":7.60e-5},{"s":"d","x":45,"y":5.45e-5},{"s":"d","x":46,"y":7.94e-5},{"s":"d","x":47,"y":5.69e-5},{"s":"d","x":48,"y":8.29e-5},{"s":"d","x":49,"y":6.07e-5},{"s":"d","x":50,"y":8.61e-5},{"s":"d","x":51,"y":6.41e-5},{"s":"d","x":52,"y":8.99e-5},{"s":"d","x":53,"y":6.58e-5},{"s":"d","x":54,"y":9.38e-5},{"s":"d","x":55,"y":6.83e-5},{"s":"d","x":56,"y":9.79e-5},{"s":"d","x":57,"y":7.13e-5},{"s":"d","x":58,"y":1.022e-4},{"s":"d","x":59,"y":7.36e-5},{"s":"d","x":60,"y":1.067e-4},{"s":"d","x":61,"y":7.94e-5},{"s":"d","x":62,"y":7.52e-5},{"s":"d","x":63,"y":7.73e-5},{"s":"d","x":64,"y":8.38e-5},{"s":"d","x":65,"y":9.08e-5},{"s":"d","x":66,"y":6.94e-5},{"s":"d","x":67,"y":1.038e-4},{"s":"d","x":68,"y":7.73e-5},{"s":"d","x":69,"y":1.078e-4},{"s":"d","x":70,"y":7.94e-5},{"s":"d","x":71,"y":1.120e-4},{"s":"d","x":72,"y":8.11e-5},{"s":"d","x":73,"y":1.156e-4},{"s":"d","x":74,"y":8.29e-5},{"s":"d","x":75,"y":1.194e-4},{"s":"d","x":76,"y":8.47e-5},{"s":"d","x":77,"y":1.233e-4},{"s":"d","x":78,"y":8.65e-5},{"s":"d","x":79,"y":1.274e-4},{"s":"d","x":80,"y":8.84e-5},{"s":"d","x":81,"y":1.315e-4},{"s":"d","x":82,"y":9.08e-5},{"s":"d","x":83,"y":1.358e-4},{"s":"d","x":84,"y":9.33e-5},{"s":"d","x":85,"y":1.403e-4},{"s":"d","x":86,"y":9.63e-5},{"s":"d","x":87,"y":1.449e-4},{"s":"d","x":88,"y":9.95e-5},{"s":"d","x":89,"y":1.496e-4},{"s":"d","x":90,"y":1.038e-4},{"s":"d","x":91,"y":1.545e-4},{"s":"d","x":92,"y":1.072e-4},{"s":"d","x":93,"y":1.613e-4},{"s":"d","x":94,"y":1.108e-4},{"s":"d","x":95,"y":1.684e-4},{"s":"d","x":96,"y":1.156e-4},{"s":"d","x":97,"y":1.729e-4},{"s":"d","x":98,"y":1.220e-4},{"s":"d","x":99,"y":1.795e-4}
],
"R4":[
{"s":"a","x":0,"y":1.0e-2},{"s":"a","x":1,"y":8.48e-4},{"s":"a","x":2,"y":4.95e-4},{"s":"a","x":3,"y":3.64e-4},{"s":"a","x":4,"y":3.00e-4},{"s":"a","x":6,"y":2.57e-4},{"s":"a","x":8,"y":2.38e-4},{"s":"a","x":12,"y":2.27e-4},{"s":"a","x":15,"y":2.34e-4},{"s":"a","x":18,"y":2.45e-4},{"s":"a","x":22,"y":2.43e-4},{"s":"a","x":30,"y":2.40e-4},{"s":"a","x":35,"y":2.37e-4},{"s":"a","x":40,"y":2.27e-4},{"s":"a","x":45,"y":2.23e-4},{"s":"a","x":48,"y":2.19e-4},{"s":"a","x":52,"y":2.14e-4},{"s":"a","x":56,"y":2.08e-4},{"s":"a","x":60,"y":2.14e-4},{"s":"a","x":64,"y":2.19e-4},{"s":"a","x":66,"y":2.25e-4},{"s":"a","x":70,"y":2.28e-4},{"s":"a","x":75,"y":2.27e-4},{"s":"a","x":77,"y":2.23e-4},{"s":"a","x":80,"y":2.38e-4},{"s":"a","x":82,"y":2.50e-4},{"s":"a","x":86,"y":2.57e-4},{"s":"a","x":90,"y":2.59e-4},{"s":"a","x":94,"y":2.73e-4},{"s":"a","x":98,"y":2.89e-4},{"s":"a","x":100,"y":3.03e-4},
{"s":"b","x":0,"y":9.9e-3},{"s":"b","x":1,"y":1.067e-3},{"s":"b","x":2,"y":6.00e-4},{"s":"b","x":3,"y":4.58e-4},{"s":"b","x":4,"y":3.93e-4},{"s":"b","x":6,"y":3.50e-4},{"s":"b","x":8,"y":3.31e-4},{"s":"b","x":10,"y":3.40e-4},{"s":"b","x":12,"y":3.40e-4},{"s":"b","x":14,"y":3.67e-4},{"s":"b","x":16,"y":3.75e-4},{"s":"b","x":19,"y":3.88e-4},{"s":"b","x":23,"y":3.88e-4},{"s":"b","x":26,"y":4.01e-4},{"s":"b","x":28,"y":4.16e-4},{"s":"b","x":32,"y":4.24e-4},{"s":"b","x":36,"y":4.44e-4},{"s":"b","x":40,"y":4.33e-4},{"s":"b","x":45,"y":4.44e-4},{"s":"b","x":48,"y":4.33e-4},{"s":"b","x":52,"y":4.16e-4},{"s":"b","x":56,"y":4.21e-4},{"s":"b","x":60,"y":4.01e-4},{"s":"b","x":64,"y":3.78e-4},{"s":"b","x":67,"y":3.85e-4},{"s":"b","x":70,"y":3.64e-4},{"s":"b","x":73,"y":3.71e-4},{"s":"b","x":76,"y":3.57e-4},{"s":"b","x":80,"y":3.57e-4},{"s":"b","x":85,"y":3.57e-4},{"s":"b","x":89,"y":3.78e-4},{"s":"b","x":91,"y":3.71e-4},{"s":"b","x":93,"y":3.85e-4},{"s":"b","x":96,"y":3.75e-4},{"s":"b","x":100,"y":4.16e-4},
{"s":"c","x":0,"y":8.84e-3},{"s":"c","x":1,"y":2.13e-3},{"s":"c","x":2,"y":3.93e-4},{"s":"c","x":3,"y":2.48e-4},{"s":"c","x":4,"y":1.82e-4},{"s":"c","x":5,"y":1.56e-4},{"s":"c","x":6,"y":1.50e-4},{"s":"c","x":7,"y":1.53e-4},{"s":"c","x":8,"y":1.59e-4},{"s":"c","x":9,"y":1.75e-4},{"s":"c","x":10,"y":1.82e-4},{"s":"c","x":11,"y":1.84e-4},{"s":"c","x":12,"y":1.86e-4},{"s":"c","x":13,"y":1.91e-4},{"s":"c","x":14,"y":1.86e-4},{"s":"c","x":15,"y":1.79e-4},{"s":"c","x":16,"y":1.81e-4},{"s":"c","x":17,"y":1.82e-4},{"s":"c","x":18,"y":1.72e-4},{"s":"c","x":19,"y":1.80e-4},{"s":"c","x":20,"y":1.74e-4},{"s":"c","x":21,"y":1.65e-4},{"s":"c","x":22,"y":1.67e-4},{"s":"c","x":23,"y":1.70e-4},{"s":"c","x":24,"y":1.71e-4},{"s":"c","x":25,"y":1.72e-4},{"s":"c","x":26,"y":1.81e-4},{"s":"c","x":27,"y":1.74e-4},{"s":"c","x":28,"y":1.69e-4},{"s":"c","x":29,"y":1.65e-4},{"s":"c","x":30,"y":1.62e-4},{"s":"c","x":31,"y":1.64e-4},{"s":"c","x":32,"y":1.69e-4},{"s":"c","x":33,"y":1.66e-4},{"s":"c","x":34,"y":1.64e-4},{"s":"c","x":35,"y":1.59e-4},{"s":"c","x":36,"y":1.56e-4},{"s":"c","x":37,"y":1.50e-4},{"s":"c","x":38,"y":1.45e-4},{"s":"c","x":39,"y":1.49e-4},{"s":"c","x":40,"y":1.59e-4},{"s":"c","x":41,"y":1.59e-4},{"s":"c","x":42,"y":1.62e-4},{"s":"c","x":43,"y":1.53e-4},{"s":"c","x":44,"y":1.46e-4},{"s":"c","x":45,"y":1.56e-4},{"s":"c","x":46,"y":1.50e-4},{"s":"c","x":47,"y":1.57e-4},{"s":"c","x":48,"y":1.56e-4},{"s":"c","x":49,"y":1.62e-4},{"s":"c","x":50,"y":1.39e-4},{"s":"c","x":51,"y":1.50e-4},{"s":"c","x":52,"y":1.61e-4},{"s":"c","x":53,"y":1.42e-4},{"s":"c","x":54,"y":1.38e-4},{"s":"c","x":55,"y":1.47e-4},{"s":"c","x":56,"y":1.50e-4},{"s":"c","x":57,"y":1.59e-4},{"s":"c","x":58,"y":1.69e-4},{"s":"c","x":59,"y":1.62e-4},{"s":"c","x":60,"y":1.64e-4},{"s":"c","x":61,"y":1.69e-4},{"s":"c","x":62,"y":1.62e-4},{"s":"c","x":63,"y":1.40e-4},{"s":"c","x":64,"y":1.50e-4},{"s":"c","x":65,"y":1.65e-4},{"s":"c","x":66,"y":1.69e-4},{"s":"c","x":67,"y":1.65e-4},{"s":"c","x":68,"y":1.69e-4},{"s":"c","x":69,"y":1.98e-4},{"s":"c","x":70,"y":1.75e-4},{"s":"c","x":71,"y":1.53e-4},{"s":"c","x":72,"y":1.69e-4},{"s":"c","x":73,"y":1.81e-4},{"s":"c","x":74,"y":1.75e-4},{"s":"c","x":75,"y":1.62e-4},{"s":"c","x":76,"y":1.79e-4},{"s":"c","x":77,"y":1.72e-4},{"s":"c","x":78,"y":1.75e-4},{"s":"c","x":79,"y":1.88e-4},{"s":"c","x":80,"y":1.59e-4},{"s":"c","x":81,"y":1.79e-4},{"s":"c","x":82,"y":1.82e-4},{"s":"c","x":83,"y":1.98e-4},{"s":"c","x":84,"y":2.01e-4},{"s":"c","x":85,"y":2.04e-4},{"s":"c","x":86,"y":2.25e-4},{"s":"c","x":87,"y":2.48e-4},{"s":"c","x":88,"y":2.68e-4},{"s":"c","x":89,"y":2.83e-4},{"s":"c","x":90,"y":3.37e-4},{"s":"c","x":91,"y":4.01e-4},{"s":"c","x":92,"y":4.24e-4},{"s":"c","x":93,"y":2.25e-4},{"s":"c","x":94,"y":2.48e-4},{"s":"c","x":95,"y":2.70e-4},{"s":"c","x":96,"y":2.48e-4},{"s":"c","x":97,"y":2.68e-4},{"s":"c","x":98,"y":2.73e-4},{"s":"c","x":99,"y":2.95e-4},{"s":"c","x":100,"y":2.80e-4},
{"s":"d","x":0,"y":7.87e-3},{"s":"d","x":1,"y":1.57e-3},{"s":"d","x":2,"y":4.05e-4},{"s":"d","x":3,"y":2.48e-4},{"s":"d","x":4,"y":1.82e-4},{"s":"d","x":5,"y":1.56e-4},{"s":"d","x":6,"y":1.53e-4},{"s":"d","x":7,"y":1.52e-4},{"s":"d","x":8,"y":1.56e-4},{"s":"d","x":9,"y":1.75e-4},{"s":"d","x":10,"y":1.86e-4},{"s":"d","x":11,"y":1.86e-4},{"s":"d","x":12,"y":1.75e-4},{"s":"d","x":13,"y":1.81e-4},{"s":"d","x":14,"y":1.86e-4},{"s":"d","x":15,"y":1.93e-4},{"s":"d","x":16,"y":1.79e-4},{"s":"d","x":17,"y":1.79e-4},{"s":"d","x":18,"y":1.69e-4},{"s":"d","x":19,"y":1.72e-4},{"s":"d","x":20,"y":1.69e-4},{"s":"d","x":21,"y":1.65e-4},{"s":"d","x":22,"y":1.59e-4},{"s":"d","x":23,"y":1.69e-4},{"s":"d","x":24,"y":1.79e-4},{"s":"d","x":25,"y":1.69e-4},{"s":"d","x":26,"y":1.74e-4},{"s":"d","x":27,"y":1.72e-4},{"s":"d","x":28,"y":1.69e-4},{"s":"d","x":29,"y":1.65e-4},{"s":"d","x":30,"y":1.69e-4},{"s":"d","x":31,"y":1.72e-4},{"s":"d","x":32,"y":1.80e-4},{"s":"d","x":33,"y":1.62e-4},{"s":"d","x":34,"y":1.56e-4},{"s":"d","x":35,"y":1.59e-4},{"s":"d","x":36,"y":1.62e-4},{"s":"d","x":37,"y":1.65e-4},{"s":"d","x":38,"y":1.70e-4},{"s":"d","x":39,"y":1.91e-4},{"s":"d","x":40,"y":1.53e-4},{"s":"d","x":41,"y":1.50e-4},{"s":"d","x":42,"y":1.47e-4},{"s":"d","x":43,"y":1.50e-4},{"s":"d","x":44,"y":1.45e-4},{"s":"d","x":45,"y":1.50e-4},{"s":"d","x":46,"y":1.53e-4},{"s":"d","x":47,"y":1.46e-4},{"s":"d","x":48,"y":1.50e-4},{"s":"d","x":49,"y":1.56e-4},{"s":"d","x":50,"y":1.61e-4},{"s":"d","x":51,"y":1.59e-4},{"s":"d","x":52,"y":1.39e-4},{"s":"d","x":53,"y":1.40e-4},{"s":"d","x":54,"y":1.34e-4},{"s":"d","x":55,"y":1.46e-4},{"s":"d","x":56,"y":1.39e-4},{"s":"d","x":57,"y":1.47e-4},{"s":"d","x":58,"y":1.57e-4},{"s":"d","x":59,"y":1.57e-4},{"s":"d","x":60,"y":1.56e-4},{"s":"d","x":61,"y":1.37e-4},{"s":"d","x":62,"y":1.47e-4},{"s":"d","x":63,"y":1.59e-4},{"s":"d","x":64,"y":1.72e-4},{"s":"d","x":65,"y":1.86e-4},{"s":"d","x":66,"y":1.79e-4},{"s":"d","x":67,"y":1.50e-4},{"s":"d","x":68,"y":1.56e-4},{"s":"d","x":69,"y":1.69e-4},{"s":"d","x":70,"y":1.82e-4},{"s":"d","x":71,"y":2.01e-4},{"s":"d","x":72,"y":1.89e-4},{"s":"d","x":73,"y":1.65e-4},{"s":"d","x":74,"y":1.65e-4},{"s":"d","x":75,"y":1.79e-4},{"s":"d","x":76,"y":2.01e-4},{"s":"d","x":77,"y":1.70e-4},{"s":"d","x":78,"y":1.72e-4},{"s":"d","x":79,"y":1.81e-4},{"s":"d","x":80,"y":1.93e-4},{"s":"d","x":81,"y":2.04e-4},{"s":"d","x":82,"y":1.94e-4},{"s":"d","x":83,"y":2.17e-4},{"s":"d","x":84,"y":2.08e-4},{"s":"d","x":85,"y":1.84e-4},{"s":"d","x":86,"y":1.75e-4},{"s":"d","x":87,"y":1.89e-4},{"s":"d","x":88,"y":2.01e-4},{"s":"d","x":89,"y":2.04e-4},{"s":"d","x":90,"y":2.01e-4},{"s":"d","x":91,"y":2.25e-4},{"s":"d","x":92,"y":2.25e-4},{"s":"d","x":93,"y":1.97e-4},{"s":"d","x":94,"y":2.21e-4},{"s":"d","x":95,"y":2.12e-4},{"s":"d","x":96,"y":2.08e-4},{"s":"d","x":97,"y":2.06e-4},{"s":"d","x":98,"y":2.17e-4},{"s":"d","x":99,"y":2.48e-4},{"s":"d","x":100,"y":2.48e-4}
]
},
"concat":[
{"width":1014,"height":449,"data":{"name":"L1"},"mark":{"type":"line","clip":true},
 "encoding":{"x":{"field":"x","type":"quantitative","scale":{"domain":[-6,2800],"nice":false,"zero":false},"axis":{"title":"wall clock time (second)","values":[0,500,1000,1500,2000,2500],"format":"d"}},
 "y":{"field":"y","type":"quantitative","scale":{"domain":[-4593,-1258],"nice":false,"zero":false},"axis":{"title":"test ELBO","values":[-4000,-3000,-2000],"format":"d"}},
 "color":{"field":"s","type":"nominal","scale":{"domain":["a","b","c","d"],"range":["#ff0000","#008000","#0000ff","#bf00bf"]},"legend":null}}},
{"width":1014,"height":449,"data":{"name":"R1"},"mark":{"type":"line","clip":true},
 "encoding":{"x":{"field":"x","type":"quantitative","scale":{"domain":[-1.07,100],"nice":false,"zero":false},"axis":{"title":"iteration t","values":[0,20,40,60,80,100],"format":"d"}},
 "y":{"field":"y","type":"quantitative","scale":{"type":"log","domain":[2.86e-6,9.66e-4],"nice":false},"axis":{"title":"update-term variance","values":[1e-5,1e-4],"labelExpr":"datum.value < 5e-5 ? '10⁻⁵' : datum.value < 5e-4 ? '10⁻⁴' : datum.value < 5e-3 ? '10⁻³' : '10⁻²'"}},
 "color":{"field":"s","type":"nominal","scale":{"domain":["a","b","c","d"],"range":["#ff0000","#008000","#0000ff","#bf00bf"]},"legend":null}}},
{"width":1014,"height":449,"data":{"name":"L2"},"mark":{"type":"line","clip":true},
 "encoding":{"x":{"field":"x","type":"quantitative","scale":{"domain":[-12,1000],"nice":false,"zero":false},"axis":{"title":"wall clock time (second)","values":[0,200,400,600,800,1000],"format":"d"}},
 "y":{"field":"y","type":"quantitative","scale":{"domain":[-757.7,-528.4],"nice":false,"zero":false},"axis":{"title":"test ELBO","values":[-750,-700,-650,-600,-550],"format":"d"}},
 "color":{"field":"s","type":"nominal","scale":{"domain":["a","b","c","d"],"range":["#ff0000","#008000","#0000ff","#bf00bf"]},"legend":null}}},
{"width":1014,"height":449,"data":{"name":"R2"},"mark":{"type":"line","clip":true},
 "encoding":{"x":{"field":"x","type":"quantitative","scale":{"domain":[-1.07,100],"nice":false,"zero":false},"axis":{"title":"iteration t","values":[0,20,40,60,80,100],"format":"d"}},
 "y":{"field":"y","type":"quantitative","scale":{"type":"log","domain":[1.574e-4,2.218e-2],"nice":false},"axis":{"title":"update-term variance","values":[1e-3,1e-2],"labelExpr":"datum.value < 5e-5 ? '10⁻⁵' : datum.value < 5e-4 ? '10⁻⁴' : datum.value < 5e-3 ? '10⁻³' : '10⁻²'"}},
 "color":{"field":"s","type":"nominal","scale":{"domain":["a","b","c","d"],"range":["#ff0000","#008000","#0000ff","#bf00bf"]},"legend":null}}},
{"width":1014,"height":449,"data":{"name":"L3"},"mark":{"type":"line","clip":true},
 "encoding":{"x":{"field":"x","type":"quantitative","scale":{"domain":[-10,1400],"nice":false,"zero":false},"axis":{"title":"wall clock time (second)","values":[0,200,400,600,800,1000,1200,1400],"format":"d"}},
 "y":{"field":"y","type":"quantitative","scale":{"domain":[-119600,10400],"nice":false,"zero":false},"axis":{"title":"test ELBO","values":[-100000,-50000,0],"format":"d"}},
 "color":{"field":"s","type":"nominal","scale":{"domain":["a","b","c","d"],"range":["#ff0000","#008000","#0000ff","#bf00bf"]},"legend":null}}},
{"width":1014,"height":449,"data":{"name":"R3"},"mark":{"type":"line","clip":true},
 "encoding":{"x":{"field":"x","type":"quantitative","scale":{"domain":[-1.07,100],"nice":false,"zero":false},"axis":{"title":"iteration t","values":[0,20,40,60,80,100],"format":"d"}},
 "y":{"field":"y","type":"quantitative","scale":{"type":"log","domain":[1.592e-5,1.34e-2],"nice":false},"axis":{"title":"update-term variance","values":[1e-4,1e-3,1e-2],"labelExpr":"datum.value < 5e-5 ? '10⁻⁵' : datum.value < 5e-4 ? '10⁻⁴' : datum.value < 5e-3 ? '10⁻³' : '10⁻²'"}},
 "color":{"field":"s","type":"nominal","scale":{"domain":["a","b","c","d"],"range":["#ff0000","#008000","#0000ff","#bf00bf"]},"legend":null}}},
{"width":1014,"height":449,"data":{"name":"L4"},"mark":{"type":"line","clip":true},
 "encoding":{"x":{"field":"x","type":"quantitative","scale":{"domain":[-11,900],"nice":false,"zero":false},"axis":{"title":"wall clock time (second)","values":[0,200,400,600,800],"format":"d"}},
 "y":{"field":"y","type":"quantitative","scale":{"domain":[-800,12],"nice":false,"zero":false},"axis":{"title":"test ELBO","values":[-800,-600,-400,-200,0],"format":"d"}},
 "color":{"field":"s","type":"nominal","scale":{"domain":["a","b","c","d"],"range":["#ff0000","#008000","#0000ff","#bf00bf"]},"legend":null}}},
{"width":1014,"height":449,"data":{"name":"R4"},"mark":{"type":"line","clip":true},
 "encoding":{"x":{"field":"x","type":"quantitative","scale":{"domain":[-1.07,100],"nice":false,"zero":false},"axis":{"title":"iteration t","values":[0,20,40,60,80,100],"format":"d"}},
 "y":{"field":"y","type":"quantitative","scale":{"type":"log","domain":[1.076e-4,1.21e-2],"nice":false},"axis":{"title":"update-term variance","values":[1e-3,1e-2],"labelExpr":"datum.value < 5e-5 ? '10⁻⁵' : datum.value < 5e-4 ? '10⁻⁴' : datum.value < 5e-3 ? '10⁻³' : '10⁻²'"}},
 "color":{"field":"s","type":"nominal","scale":{"domain":["a","b","c","d"],"range":["#ff0000","#008000","#0000ff","#bf00bf"]},
  "legend":{"title":null,"orient":"none","legendX":469,"legendY":28,"padding":0,"symbolType":"M-2,0H2","symbolSize":1722,"symbolStrokeWidth":7,"labelFontSize":40,"labelColor":"#262626","labelOffset":47,"rowPadding":13,"labelLimit":600,
   "labelExpr":"datum.label == 'a' ? 'mc-50sample (Adam)' : datum.label == 'b' ? 'rqmc-50sample (Adam)' : datum.label == 'c' ? 'mlmc-50sample (SGD)' : 'mlmc-10sample (SGD)'"}}}}
]
}
